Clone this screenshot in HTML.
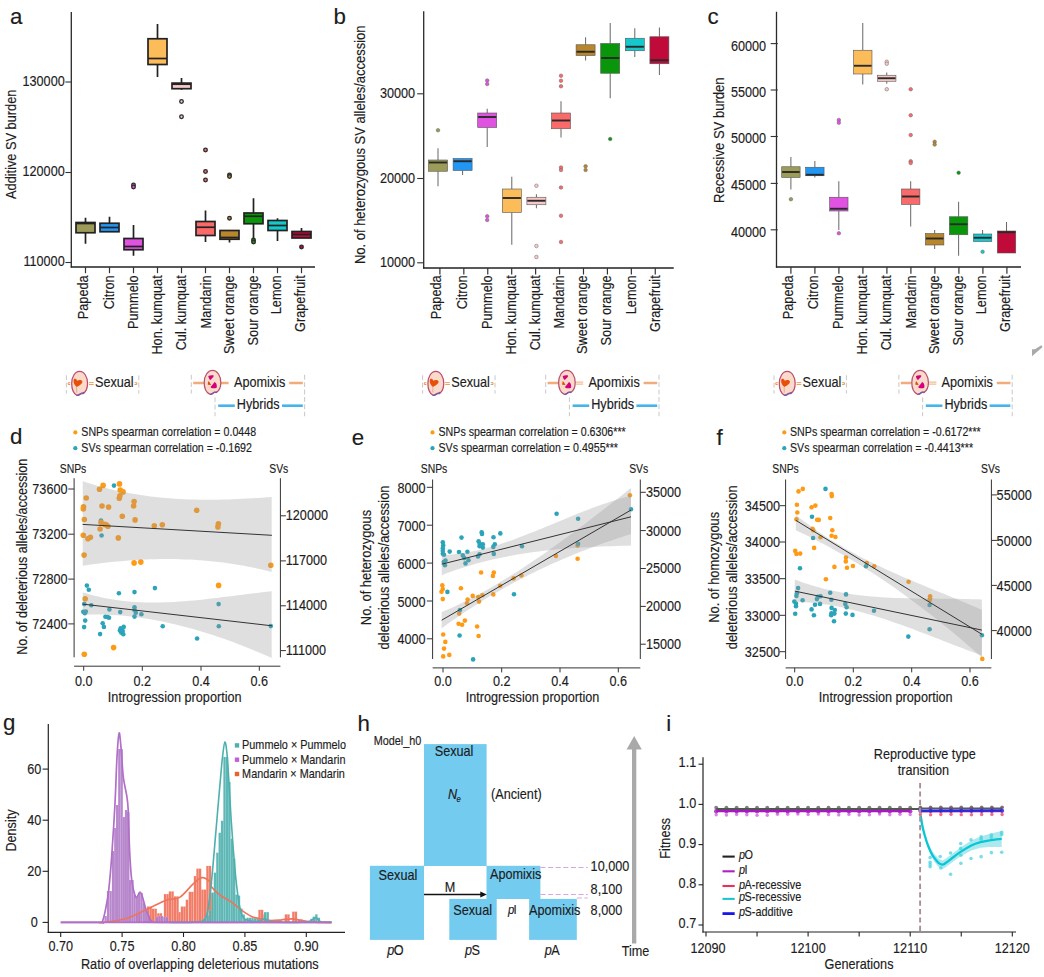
<!DOCTYPE html>
<html><head><meta charset="utf-8"><title>figure</title>
<style>html,body{margin:0;padding:0;background:#fff}svg{display:block}text{font-family:"Liberation Sans",sans-serif}</style>
</head><body>
<svg width="1044" height="977" viewBox="0 0 1044 977">
<rect width="1044" height="977" fill="#fff"/>
<line x1="71.30" y1="12.00" x2="71.30" y2="267.50" stroke="#2a2a2a" stroke-width="1.3"/>
<line x1="70.70" y1="267.00" x2="315.00" y2="267.00" stroke="#222" stroke-width="1.3"/>
<line x1="65.40" y1="82.00" x2="71.30" y2="82.00" stroke="#333" stroke-width="1.1"/>
<text transform="translate(64.70,85.60) scale(0.8450,1)" font-size="14.98" text-anchor="end" fill="#1c1c1c" stroke="#1c1c1c" stroke-width="0.16">130000</text>
<line x1="65.40" y1="172.50" x2="71.30" y2="172.50" stroke="#333" stroke-width="1.1"/>
<text transform="translate(64.70,176.10) scale(0.8450,1)" font-size="14.98" text-anchor="end" fill="#1c1c1c" stroke="#1c1c1c" stroke-width="0.16">120000</text>
<line x1="65.40" y1="262.50" x2="71.30" y2="262.50" stroke="#333" stroke-width="1.1"/>
<text transform="translate(64.70,266.10) scale(0.8450,1)" font-size="14.98" text-anchor="end" fill="#1c1c1c" stroke="#1c1c1c" stroke-width="0.16">110000</text>
<line x1="85.50" y1="267.00" x2="85.50" y2="273.20" stroke="#333" stroke-width="1.2"/>
<text transform="translate(87.70,275.30) rotate(-90) scale(0.8280,1)" font-size="15.4" text-anchor="end" fill="#1c1c1c" stroke="#1c1c1c" stroke-width="0.16">Papeda</text>
<line x1="85.50" y1="217.75" x2="85.50" y2="222.50" stroke="#222" stroke-width="1.7"/>
<line x1="85.50" y1="232.75" x2="85.50" y2="243.75" stroke="#222" stroke-width="1.7"/>
<rect x="76.00" y="222.50" width="19.00" height="10.25" fill="#9c9c58" stroke="#222" stroke-width="1.7"/>
<line x1="76.00" y1="223.50" x2="95.00" y2="223.50" stroke="#222" stroke-width="1.7"/>
<line x1="109.50" y1="267.00" x2="109.50" y2="273.20" stroke="#333" stroke-width="1.2"/>
<text transform="translate(113.90,275.30) rotate(-90) scale(0.8280,1)" font-size="15.4" text-anchor="end" fill="#1c1c1c" stroke="#1c1c1c" stroke-width="0.16">Citron</text>
<line x1="109.50" y1="216.75" x2="109.50" y2="223.25" stroke="#222" stroke-width="1.7"/>
<line x1="109.50" y1="231.75" x2="109.50" y2="231.75" stroke="#222" stroke-width="1.7"/>
<rect x="100.00" y="223.25" width="19.00" height="8.50" fill="#2196f3" stroke="#222" stroke-width="1.7"/>
<line x1="100.00" y1="227.50" x2="119.00" y2="227.50" stroke="#222" stroke-width="1.7"/>
<line x1="133.50" y1="267.00" x2="133.50" y2="273.20" stroke="#333" stroke-width="1.2"/>
<text transform="translate(138.20,275.30) rotate(-90) scale(0.8280,1)" font-size="15.4" text-anchor="end" fill="#1c1c1c" stroke="#1c1c1c" stroke-width="0.16">Pummelo</text>
<line x1="133.50" y1="225.00" x2="133.50" y2="238.50" stroke="#222" stroke-width="1.7"/>
<line x1="133.50" y1="249.75" x2="133.50" y2="255.75" stroke="#222" stroke-width="1.7"/>
<rect x="124.00" y="238.50" width="19.00" height="11.25" fill="#e052e0" stroke="#222" stroke-width="1.7"/>
<line x1="124.00" y1="246.50" x2="143.00" y2="246.50" stroke="#222" stroke-width="1.7"/>
<circle cx="133.50" cy="185.00" r="1.80" fill="#e052e0" stroke="#2a2a2a" stroke-width="1.3"/>
<circle cx="133.50" cy="187.00" r="1.80" fill="#e052e0" stroke="#2a2a2a" stroke-width="1.3"/>
<line x1="157.50" y1="267.00" x2="157.50" y2="273.20" stroke="#333" stroke-width="1.2"/>
<text transform="translate(162.40,275.30) rotate(-90) scale(0.8280,1)" font-size="15.4" text-anchor="end" fill="#1c1c1c" stroke="#1c1c1c" stroke-width="0.16">Hon. kumquat</text>
<line x1="157.50" y1="24.00" x2="157.50" y2="38.75" stroke="#222" stroke-width="1.7"/>
<line x1="157.50" y1="64.50" x2="157.50" y2="77.00" stroke="#222" stroke-width="1.7"/>
<rect x="148.00" y="38.75" width="19.00" height="25.75" fill="#fdbc5a" stroke="#222" stroke-width="1.7"/>
<line x1="148.00" y1="58.50" x2="167.00" y2="58.50" stroke="#222" stroke-width="1.7"/>
<line x1="181.50" y1="267.00" x2="181.50" y2="273.20" stroke="#333" stroke-width="1.2"/>
<text transform="translate(186.40,275.30) rotate(-90) scale(0.8280,1)" font-size="15.4" text-anchor="end" fill="#1c1c1c" stroke="#1c1c1c" stroke-width="0.16">Cul. kumquat</text>
<line x1="181.50" y1="78.00" x2="181.50" y2="83.10" stroke="#222" stroke-width="1.7"/>
<line x1="181.50" y1="88.70" x2="181.50" y2="89.80" stroke="#222" stroke-width="1.7"/>
<rect x="172.00" y="83.10" width="19.00" height="5.60" fill="#f8c8c8" stroke="#222" stroke-width="1.7"/>
<line x1="172.00" y1="84.20" x2="191.00" y2="84.20" stroke="#222" stroke-width="1.7"/>
<circle cx="181.50" cy="101.50" r="1.80" fill="#f8c8c8" stroke="#2a2a2a" stroke-width="1.3"/>
<circle cx="181.50" cy="116.75" r="1.80" fill="#f8c8c8" stroke="#2a2a2a" stroke-width="1.3"/>
<line x1="205.50" y1="267.00" x2="205.50" y2="273.20" stroke="#333" stroke-width="1.2"/>
<text transform="translate(210.50,275.30) rotate(-90) scale(0.8280,1)" font-size="15.4" text-anchor="end" fill="#1c1c1c" stroke="#1c1c1c" stroke-width="0.16">Mandarin</text>
<line x1="205.50" y1="210.50" x2="205.50" y2="221.50" stroke="#222" stroke-width="1.7"/>
<line x1="205.50" y1="235.50" x2="205.50" y2="242.00" stroke="#222" stroke-width="1.7"/>
<rect x="196.00" y="221.50" width="19.00" height="14.00" fill="#fb6a6a" stroke="#222" stroke-width="1.7"/>
<line x1="196.00" y1="227.25" x2="215.00" y2="227.25" stroke="#222" stroke-width="1.7"/>
<circle cx="205.50" cy="150.00" r="1.80" fill="#fb6a6a" stroke="#2a2a2a" stroke-width="1.3"/>
<circle cx="205.50" cy="171.50" r="1.80" fill="#fb6a6a" stroke="#2a2a2a" stroke-width="1.3"/>
<circle cx="205.50" cy="180.00" r="1.80" fill="#fb6a6a" stroke="#2a2a2a" stroke-width="1.3"/>
<line x1="229.50" y1="267.00" x2="229.50" y2="273.20" stroke="#333" stroke-width="1.2"/>
<text transform="translate(233.80,275.30) rotate(-90) scale(0.8280,1)" font-size="15.4" text-anchor="end" fill="#1c1c1c" stroke="#1c1c1c" stroke-width="0.16">Sweet orange</text>
<line x1="229.50" y1="230.50" x2="229.50" y2="230.50" stroke="#222" stroke-width="1.7"/>
<line x1="229.50" y1="239.25" x2="229.50" y2="242.50" stroke="#222" stroke-width="1.7"/>
<rect x="220.00" y="230.50" width="19.00" height="8.75" fill="#b8862b" stroke="#222" stroke-width="1.7"/>
<line x1="220.00" y1="237.50" x2="239.00" y2="237.50" stroke="#222" stroke-width="1.7"/>
<circle cx="229.50" cy="175.00" r="1.80" fill="#b8862b" stroke="#2a2a2a" stroke-width="1.3"/>
<circle cx="229.50" cy="176.50" r="1.80" fill="#b8862b" stroke="#2a2a2a" stroke-width="1.3"/>
<circle cx="229.50" cy="218.25" r="1.80" fill="#b8862b" stroke="#2a2a2a" stroke-width="1.3"/>
<line x1="253.50" y1="267.00" x2="253.50" y2="273.20" stroke="#333" stroke-width="1.2"/>
<text transform="translate(257.90,275.30) rotate(-90) scale(0.8280,1)" font-size="15.4" text-anchor="end" fill="#1c1c1c" stroke="#1c1c1c" stroke-width="0.16">Sour orange</text>
<line x1="253.50" y1="198.25" x2="253.50" y2="213.00" stroke="#222" stroke-width="1.7"/>
<line x1="253.50" y1="223.75" x2="253.50" y2="240.00" stroke="#222" stroke-width="1.7"/>
<rect x="244.00" y="213.00" width="19.00" height="10.75" fill="#0a960a" stroke="#222" stroke-width="1.7"/>
<line x1="244.00" y1="216.25" x2="263.00" y2="216.25" stroke="#222" stroke-width="1.7"/>
<circle cx="253.50" cy="240.00" r="1.80" fill="#0a960a" stroke="#2a2a2a" stroke-width="1.3"/>
<circle cx="253.50" cy="242.00" r="1.80" fill="#0a960a" stroke="#2a2a2a" stroke-width="1.3"/>
<line x1="277.50" y1="267.00" x2="277.50" y2="273.20" stroke="#333" stroke-width="1.2"/>
<text transform="translate(280.80,275.30) rotate(-90) scale(0.8280,1)" font-size="15.4" text-anchor="end" fill="#1c1c1c" stroke="#1c1c1c" stroke-width="0.16">Lemon</text>
<line x1="277.50" y1="218.25" x2="277.50" y2="220.50" stroke="#222" stroke-width="1.7"/>
<line x1="277.50" y1="230.50" x2="277.50" y2="241.00" stroke="#222" stroke-width="1.7"/>
<rect x="268.00" y="220.50" width="19.00" height="10.00" fill="#14c8cc" stroke="#222" stroke-width="1.7"/>
<line x1="268.00" y1="225.50" x2="287.00" y2="225.50" stroke="#222" stroke-width="1.7"/>
<line x1="301.50" y1="267.00" x2="301.50" y2="273.20" stroke="#333" stroke-width="1.2"/>
<text transform="translate(305.20,275.30) rotate(-90) scale(0.8280,1)" font-size="15.4" text-anchor="end" fill="#1c1c1c" stroke="#1c1c1c" stroke-width="0.16">Grapefruit</text>
<line x1="301.50" y1="228.00" x2="301.50" y2="231.50" stroke="#222" stroke-width="1.7"/>
<line x1="301.50" y1="238.00" x2="301.50" y2="238.00" stroke="#222" stroke-width="1.7"/>
<rect x="292.00" y="231.50" width="19.00" height="6.50" fill="#c00a3a" stroke="#222" stroke-width="1.7"/>
<line x1="292.00" y1="234.50" x2="311.00" y2="234.50" stroke="#222" stroke-width="1.7"/>
<circle cx="301.50" cy="247.00" r="1.80" fill="#c00a3a" stroke="#2a2a2a" stroke-width="1.3"/>
<text transform="translate(16.10,144.30) rotate(-90) scale(0.8450,1)" font-size="15.1405" text-anchor="middle" fill="#1c1c1c" stroke="#1c1c1c" stroke-width="0.16">Additive SV burden</text>
<text transform="translate(10.00,23.60) scale(1.0000,1)" font-size="22.3" text-anchor="start" fill="#1c1c1c" stroke="#1c1c1c" stroke-width="0.16">a</text>
<line x1="423.70" y1="11.25" x2="423.70" y2="268.50" stroke="#2a2a2a" stroke-width="1.3"/>
<line x1="423.10" y1="268.00" x2="673.75" y2="268.00" stroke="#222" stroke-width="1.3"/>
<line x1="417.20" y1="93.80" x2="423.70" y2="93.80" stroke="#333" stroke-width="1.1"/>
<text transform="translate(415.10,98.00) scale(0.8450,1)" font-size="14.98" text-anchor="end" fill="#1c1c1c" stroke="#1c1c1c" stroke-width="0.16">30000</text>
<line x1="417.20" y1="178.50" x2="423.70" y2="178.50" stroke="#333" stroke-width="1.1"/>
<text transform="translate(415.10,182.70) scale(0.8450,1)" font-size="14.98" text-anchor="end" fill="#1c1c1c" stroke="#1c1c1c" stroke-width="0.16">20000</text>
<line x1="417.20" y1="262.80" x2="423.70" y2="262.80" stroke="#333" stroke-width="1.1"/>
<text transform="translate(415.10,267.00) scale(0.8450,1)" font-size="14.98" text-anchor="end" fill="#1c1c1c" stroke="#1c1c1c" stroke-width="0.16">10000</text>
<line x1="439.90" y1="268.00" x2="439.90" y2="274.50" stroke="#333" stroke-width="1.2"/>
<text transform="translate(440.60,275.30) rotate(-90) scale(0.8280,1)" font-size="15.4" text-anchor="end" fill="#1c1c1c" stroke="#1c1c1c" stroke-width="0.16">Papeda</text>
<line x1="438.00" y1="148.25" x2="438.00" y2="160.00" stroke="#666" stroke-width="1"/>
<line x1="438.00" y1="171.25" x2="438.00" y2="186.25" stroke="#666" stroke-width="1"/>
<rect x="428.50" y="160.00" width="19.00" height="11.25" fill="#9c9c58" stroke="#555" stroke-width="0.6"/>
<line x1="428.90" y1="162.50" x2="447.10" y2="162.50" stroke="#2a2a2a" stroke-width="1.9"/>
<circle cx="438.00" cy="130.25" r="1.80" fill="#9c9c58" stroke="#666" stroke-width="0.5"/>
<line x1="463.83" y1="268.00" x2="463.83" y2="274.50" stroke="#333" stroke-width="1.2"/>
<text transform="translate(467.03,275.30) rotate(-90) scale(0.8280,1)" font-size="15.4" text-anchor="end" fill="#1c1c1c" stroke="#1c1c1c" stroke-width="0.16">Citron</text>
<line x1="462.60" y1="158.00" x2="462.60" y2="158.50" stroke="#666" stroke-width="1"/>
<line x1="462.60" y1="170.50" x2="462.60" y2="175.00" stroke="#666" stroke-width="1"/>
<rect x="453.10" y="158.50" width="19.00" height="12.00" fill="#2196f3" stroke="#555" stroke-width="0.6"/>
<line x1="453.50" y1="161.25" x2="471.70" y2="161.25" stroke="#2a2a2a" stroke-width="1.9"/>
<line x1="487.76" y1="268.00" x2="487.76" y2="274.50" stroke="#333" stroke-width="1.2"/>
<text transform="translate(492.16,275.30) rotate(-90) scale(0.8280,1)" font-size="15.4" text-anchor="end" fill="#1c1c1c" stroke="#1c1c1c" stroke-width="0.16">Pummelo</text>
<line x1="487.20" y1="108.75" x2="487.20" y2="113.00" stroke="#666" stroke-width="1"/>
<line x1="487.20" y1="127.50" x2="487.20" y2="147.00" stroke="#666" stroke-width="1"/>
<rect x="477.70" y="113.00" width="19.00" height="14.50" fill="#e052e0" stroke="#555" stroke-width="0.6"/>
<line x1="478.10" y1="117.00" x2="496.30" y2="117.00" stroke="#2a2a2a" stroke-width="1.9"/>
<circle cx="487.20" cy="80.50" r="1.80" fill="#e052e0" stroke="#666" stroke-width="0.5"/>
<circle cx="487.20" cy="84.00" r="1.80" fill="#e052e0" stroke="#666" stroke-width="0.5"/>
<circle cx="487.20" cy="216.25" r="1.80" fill="#e052e0" stroke="#666" stroke-width="0.5"/>
<circle cx="487.20" cy="220.00" r="1.80" fill="#e052e0" stroke="#666" stroke-width="0.5"/>
<line x1="511.69" y1="268.00" x2="511.69" y2="274.50" stroke="#333" stroke-width="1.2"/>
<text transform="translate(516.39,275.30) rotate(-90) scale(0.8280,1)" font-size="15.4" text-anchor="end" fill="#1c1c1c" stroke="#1c1c1c" stroke-width="0.16">Hon. kumquat</text>
<line x1="511.80" y1="176.75" x2="511.80" y2="189.00" stroke="#666" stroke-width="1"/>
<line x1="511.80" y1="212.50" x2="511.80" y2="244.75" stroke="#666" stroke-width="1"/>
<rect x="502.30" y="189.00" width="19.00" height="23.50" fill="#fdbc5a" stroke="#555" stroke-width="0.6"/>
<line x1="502.70" y1="198.00" x2="520.90" y2="198.00" stroke="#2a2a2a" stroke-width="1.9"/>
<line x1="535.62" y1="268.00" x2="535.62" y2="274.50" stroke="#333" stroke-width="1.2"/>
<text transform="translate(540.02,275.30) rotate(-90) scale(0.8280,1)" font-size="15.4" text-anchor="end" fill="#1c1c1c" stroke="#1c1c1c" stroke-width="0.16">Cul. kumquat</text>
<line x1="536.40" y1="194.25" x2="536.40" y2="197.25" stroke="#666" stroke-width="1"/>
<line x1="536.40" y1="204.75" x2="536.40" y2="208.25" stroke="#666" stroke-width="1"/>
<rect x="526.90" y="197.25" width="19.00" height="7.50" fill="#f8c8c8" stroke="#555" stroke-width="0.6"/>
<line x1="527.30" y1="200.75" x2="545.50" y2="200.75" stroke="#2a2a2a" stroke-width="1.9"/>
<circle cx="536.40" cy="185.75" r="1.80" fill="#f8c8c8" stroke="#666" stroke-width="0.5"/>
<circle cx="536.40" cy="246.00" r="1.80" fill="#f8c8c8" stroke="#666" stroke-width="0.5"/>
<circle cx="536.40" cy="257.00" r="1.80" fill="#f8c8c8" stroke="#666" stroke-width="0.5"/>
<line x1="559.55" y1="268.00" x2="559.55" y2="274.50" stroke="#333" stroke-width="1.2"/>
<text transform="translate(563.55,275.30) rotate(-90) scale(0.8280,1)" font-size="15.4" text-anchor="end" fill="#1c1c1c" stroke="#1c1c1c" stroke-width="0.16">Mandarin</text>
<line x1="561.00" y1="101.25" x2="561.00" y2="113.00" stroke="#666" stroke-width="1"/>
<line x1="561.00" y1="128.75" x2="561.00" y2="137.50" stroke="#666" stroke-width="1"/>
<rect x="551.50" y="113.00" width="19.00" height="15.75" fill="#fb6a6a" stroke="#555" stroke-width="0.6"/>
<line x1="551.90" y1="120.50" x2="570.10" y2="120.50" stroke="#2a2a2a" stroke-width="1.9"/>
<circle cx="561.00" cy="75.75" r="1.80" fill="#fb6a6a" stroke="#666" stroke-width="0.5"/>
<circle cx="561.00" cy="80.75" r="1.80" fill="#fb6a6a" stroke="#666" stroke-width="0.5"/>
<circle cx="561.00" cy="86.25" r="1.80" fill="#fb6a6a" stroke="#666" stroke-width="0.5"/>
<circle cx="561.00" cy="167.50" r="1.80" fill="#fb6a6a" stroke="#666" stroke-width="0.5"/>
<circle cx="561.00" cy="170.00" r="1.80" fill="#fb6a6a" stroke="#666" stroke-width="0.5"/>
<circle cx="561.00" cy="187.50" r="1.80" fill="#fb6a6a" stroke="#666" stroke-width="0.5"/>
<circle cx="561.00" cy="215.75" r="1.80" fill="#fb6a6a" stroke="#666" stroke-width="0.5"/>
<circle cx="561.00" cy="242.00" r="1.80" fill="#fb6a6a" stroke="#666" stroke-width="0.5"/>
<line x1="583.48" y1="268.00" x2="583.48" y2="274.50" stroke="#333" stroke-width="1.2"/>
<text transform="translate(587.08,275.30) rotate(-90) scale(0.8280,1)" font-size="15.4" text-anchor="end" fill="#1c1c1c" stroke="#1c1c1c" stroke-width="0.16">Sweet orange</text>
<line x1="585.60" y1="37.25" x2="585.60" y2="44.75" stroke="#666" stroke-width="1"/>
<line x1="585.60" y1="55.50" x2="585.60" y2="60.50" stroke="#666" stroke-width="1"/>
<rect x="576.10" y="44.75" width="19.00" height="10.75" fill="#b8862b" stroke="#555" stroke-width="0.6"/>
<line x1="576.50" y1="51.75" x2="594.70" y2="51.75" stroke="#2a2a2a" stroke-width="1.9"/>
<circle cx="585.60" cy="166.25" r="1.80" fill="#b8862b" stroke="#666" stroke-width="0.5"/>
<circle cx="585.60" cy="170.00" r="1.80" fill="#b8862b" stroke="#666" stroke-width="0.5"/>
<line x1="607.41" y1="268.00" x2="607.41" y2="274.50" stroke="#333" stroke-width="1.2"/>
<text transform="translate(611.11,275.30) rotate(-90) scale(0.8280,1)" font-size="15.4" text-anchor="end" fill="#1c1c1c" stroke="#1c1c1c" stroke-width="0.16">Sour orange</text>
<line x1="610.20" y1="23.00" x2="610.20" y2="43.50" stroke="#666" stroke-width="1"/>
<line x1="610.20" y1="73.25" x2="610.20" y2="98.25" stroke="#666" stroke-width="1"/>
<rect x="600.70" y="43.50" width="19.00" height="29.75" fill="#0a960a" stroke="#555" stroke-width="0.6"/>
<line x1="601.10" y1="58.00" x2="619.30" y2="58.00" stroke="#2a2a2a" stroke-width="1.9"/>
<circle cx="610.20" cy="139.00" r="1.80" fill="#0a960a" stroke="#666" stroke-width="0.5"/>
<line x1="631.34" y1="268.00" x2="631.34" y2="274.50" stroke="#333" stroke-width="1.2"/>
<text transform="translate(635.74,275.30) rotate(-90) scale(0.8280,1)" font-size="15.4" text-anchor="end" fill="#1c1c1c" stroke="#1c1c1c" stroke-width="0.16">Lemon</text>
<line x1="634.80" y1="28.25" x2="634.80" y2="38.25" stroke="#666" stroke-width="1"/>
<line x1="634.80" y1="50.75" x2="634.80" y2="57.00" stroke="#666" stroke-width="1"/>
<rect x="625.30" y="38.25" width="19.00" height="12.50" fill="#14c8cc" stroke="#555" stroke-width="0.6"/>
<line x1="625.70" y1="46.75" x2="643.90" y2="46.75" stroke="#2a2a2a" stroke-width="1.9"/>
<line x1="655.27" y1="268.00" x2="655.27" y2="274.50" stroke="#333" stroke-width="1.2"/>
<text transform="translate(659.87,275.30) rotate(-90) scale(0.8280,1)" font-size="15.4" text-anchor="end" fill="#1c1c1c" stroke="#1c1c1c" stroke-width="0.16">Grapefruit</text>
<line x1="659.40" y1="27.50" x2="659.40" y2="36.75" stroke="#666" stroke-width="1"/>
<line x1="659.40" y1="63.75" x2="659.40" y2="75.00" stroke="#666" stroke-width="1"/>
<rect x="649.90" y="36.75" width="19.00" height="27.00" fill="#c00a3a" stroke="#555" stroke-width="0.6"/>
<line x1="650.30" y1="60.25" x2="668.50" y2="60.25" stroke="#2a2a2a" stroke-width="1.9"/>
<text transform="translate(365.30,144.80) rotate(-90) scale(0.8450,1)" font-size="15.3545" text-anchor="middle" fill="#1c1c1c" stroke="#1c1c1c" stroke-width="0.16">No. of heterozygous SV alleles/accession</text>
<text transform="translate(333.40,23.60) scale(1.0000,1)" font-size="22.3" text-anchor="start" fill="#1c1c1c" stroke="#1c1c1c" stroke-width="0.16">b</text>
<line x1="776.50" y1="11.75" x2="776.50" y2="267.50" stroke="#2a2a2a" stroke-width="1.3"/>
<line x1="775.90" y1="267.00" x2="1021.00" y2="267.00" stroke="#222" stroke-width="1.3"/>
<line x1="770.70" y1="43.60" x2="777.80" y2="43.60" stroke="#333" stroke-width="1.1"/>
<text transform="translate(766.10,50.50) scale(0.8450,1)" font-size="14.98" text-anchor="end" fill="#1c1c1c" stroke="#1c1c1c" stroke-width="0.16">60000</text>
<line x1="770.70" y1="90.00" x2="777.80" y2="90.00" stroke="#333" stroke-width="1.1"/>
<text transform="translate(766.10,96.90) scale(0.8450,1)" font-size="14.98" text-anchor="end" fill="#1c1c1c" stroke="#1c1c1c" stroke-width="0.16">55000</text>
<line x1="770.70" y1="136.50" x2="777.80" y2="136.50" stroke="#333" stroke-width="1.1"/>
<text transform="translate(766.10,143.40) scale(0.8450,1)" font-size="14.98" text-anchor="end" fill="#1c1c1c" stroke="#1c1c1c" stroke-width="0.16">50000</text>
<line x1="770.70" y1="183.40" x2="777.80" y2="183.40" stroke="#333" stroke-width="1.1"/>
<text transform="translate(766.10,190.30) scale(0.8450,1)" font-size="14.98" text-anchor="end" fill="#1c1c1c" stroke="#1c1c1c" stroke-width="0.16">45000</text>
<line x1="770.70" y1="229.80" x2="777.80" y2="229.80" stroke="#333" stroke-width="1.1"/>
<text transform="translate(766.10,236.70) scale(0.8450,1)" font-size="14.98" text-anchor="end" fill="#1c1c1c" stroke="#1c1c1c" stroke-width="0.16">40000</text>
<line x1="790.90" y1="267.00" x2="790.90" y2="273.80" stroke="#333" stroke-width="1.2"/>
<text transform="translate(793.40,275.30) rotate(-90) scale(0.8280,1)" font-size="15.4" text-anchor="end" fill="#1c1c1c" stroke="#1c1c1c" stroke-width="0.16">Papeda</text>
<line x1="790.90" y1="157.00" x2="790.90" y2="166.75" stroke="#666" stroke-width="1"/>
<line x1="790.90" y1="177.50" x2="790.90" y2="189.50" stroke="#666" stroke-width="1"/>
<rect x="781.70" y="166.75" width="18.40" height="10.75" fill="#9c9c58" stroke="#555" stroke-width="0.6"/>
<line x1="782.10" y1="172.00" x2="799.70" y2="172.00" stroke="#2a2a2a" stroke-width="1.9"/>
<circle cx="790.90" cy="199.25" r="1.80" fill="#9c9c58" stroke="#666" stroke-width="0.5"/>
<line x1="814.90" y1="267.00" x2="814.90" y2="273.80" stroke="#333" stroke-width="1.2"/>
<text transform="translate(818.40,275.30) rotate(-90) scale(0.8280,1)" font-size="15.4" text-anchor="end" fill="#1c1c1c" stroke="#1c1c1c" stroke-width="0.16">Citron</text>
<line x1="814.86" y1="161.00" x2="814.86" y2="167.25" stroke="#666" stroke-width="1"/>
<line x1="814.86" y1="175.75" x2="814.86" y2="177.50" stroke="#666" stroke-width="1"/>
<rect x="805.66" y="167.25" width="18.40" height="8.50" fill="#2196f3" stroke="#555" stroke-width="0.6"/>
<line x1="806.06" y1="174.75" x2="823.66" y2="174.75" stroke="#2a2a2a" stroke-width="1.9"/>
<line x1="838.90" y1="267.00" x2="838.90" y2="273.80" stroke="#333" stroke-width="1.2"/>
<text transform="translate(842.70,275.30) rotate(-90) scale(0.8280,1)" font-size="15.4" text-anchor="end" fill="#1c1c1c" stroke="#1c1c1c" stroke-width="0.16">Pummelo</text>
<line x1="838.82" y1="181.25" x2="838.82" y2="197.25" stroke="#666" stroke-width="1"/>
<line x1="838.82" y1="211.00" x2="838.82" y2="230.00" stroke="#666" stroke-width="1"/>
<rect x="829.62" y="197.25" width="18.40" height="13.75" fill="#e052e0" stroke="#555" stroke-width="0.6"/>
<line x1="830.02" y1="208.75" x2="847.62" y2="208.75" stroke="#2a2a2a" stroke-width="1.9"/>
<circle cx="838.82" cy="120.00" r="1.80" fill="#e052e0" stroke="#666" stroke-width="0.5"/>
<circle cx="838.82" cy="122.75" r="1.80" fill="#e052e0" stroke="#666" stroke-width="0.5"/>
<circle cx="838.82" cy="233.25" r="1.80" fill="#e052e0" stroke="#666" stroke-width="0.5"/>
<line x1="862.90" y1="267.00" x2="862.90" y2="273.80" stroke="#333" stroke-width="1.2"/>
<text transform="translate(867.20,275.30) rotate(-90) scale(0.8280,1)" font-size="15.4" text-anchor="end" fill="#1c1c1c" stroke="#1c1c1c" stroke-width="0.16">Hon. kumquat</text>
<line x1="862.78" y1="23.00" x2="862.78" y2="50.25" stroke="#666" stroke-width="1"/>
<line x1="862.78" y1="74.00" x2="862.78" y2="84.50" stroke="#666" stroke-width="1"/>
<rect x="853.58" y="50.25" width="18.40" height="23.75" fill="#fdbc5a" stroke="#555" stroke-width="0.6"/>
<line x1="853.98" y1="65.75" x2="871.58" y2="65.75" stroke="#2a2a2a" stroke-width="1.9"/>
<line x1="886.90" y1="267.00" x2="886.90" y2="273.80" stroke="#333" stroke-width="1.2"/>
<text transform="translate(891.40,275.30) rotate(-90) scale(0.8280,1)" font-size="15.4" text-anchor="end" fill="#1c1c1c" stroke="#1c1c1c" stroke-width="0.16">Cul. kumquat</text>
<line x1="886.74" y1="72.50" x2="886.74" y2="75.25" stroke="#666" stroke-width="1"/>
<line x1="886.74" y1="81.25" x2="886.74" y2="83.75" stroke="#666" stroke-width="1"/>
<rect x="877.54" y="75.25" width="18.40" height="6.00" fill="#f8c8c8" stroke="#555" stroke-width="0.6"/>
<line x1="877.94" y1="78.25" x2="895.54" y2="78.25" stroke="#2a2a2a" stroke-width="1.9"/>
<circle cx="886.74" cy="61.75" r="1.80" fill="#f8c8c8" stroke="#666" stroke-width="0.5"/>
<circle cx="886.74" cy="63.75" r="1.80" fill="#f8c8c8" stroke="#666" stroke-width="0.5"/>
<circle cx="886.74" cy="89.25" r="1.80" fill="#f8c8c8" stroke="#666" stroke-width="0.5"/>
<line x1="910.90" y1="267.00" x2="910.90" y2="273.80" stroke="#333" stroke-width="1.2"/>
<text transform="translate(915.50,275.30) rotate(-90) scale(0.8280,1)" font-size="15.4" text-anchor="end" fill="#1c1c1c" stroke="#1c1c1c" stroke-width="0.16">Mandarin</text>
<line x1="910.70" y1="181.25" x2="910.70" y2="189.00" stroke="#666" stroke-width="1"/>
<line x1="910.70" y1="204.50" x2="910.70" y2="226.50" stroke="#666" stroke-width="1"/>
<rect x="901.50" y="189.00" width="18.40" height="15.50" fill="#fb6a6a" stroke="#555" stroke-width="0.6"/>
<line x1="901.90" y1="196.50" x2="919.50" y2="196.50" stroke="#2a2a2a" stroke-width="1.9"/>
<circle cx="910.70" cy="89.25" r="1.80" fill="#fb6a6a" stroke="#666" stroke-width="0.5"/>
<circle cx="910.70" cy="115.25" r="1.80" fill="#fb6a6a" stroke="#666" stroke-width="0.5"/>
<circle cx="910.70" cy="135.00" r="1.80" fill="#fb6a6a" stroke="#666" stroke-width="0.5"/>
<circle cx="910.70" cy="161.25" r="1.80" fill="#fb6a6a" stroke="#666" stroke-width="0.5"/>
<circle cx="910.70" cy="163.00" r="1.80" fill="#fb6a6a" stroke="#666" stroke-width="0.5"/>
<line x1="934.90" y1="267.00" x2="934.90" y2="273.80" stroke="#333" stroke-width="1.2"/>
<text transform="translate(938.60,275.30) rotate(-90) scale(0.8280,1)" font-size="15.4" text-anchor="end" fill="#1c1c1c" stroke="#1c1c1c" stroke-width="0.16">Sweet orange</text>
<line x1="934.66" y1="230.00" x2="934.66" y2="233.50" stroke="#666" stroke-width="1"/>
<line x1="934.66" y1="245.00" x2="934.66" y2="249.00" stroke="#666" stroke-width="1"/>
<rect x="925.46" y="233.50" width="18.40" height="11.50" fill="#b8862b" stroke="#555" stroke-width="0.6"/>
<line x1="925.86" y1="238.50" x2="943.46" y2="238.50" stroke="#2a2a2a" stroke-width="1.9"/>
<circle cx="934.66" cy="141.75" r="1.80" fill="#b8862b" stroke="#666" stroke-width="0.5"/>
<circle cx="934.66" cy="144.50" r="1.80" fill="#b8862b" stroke="#666" stroke-width="0.5"/>
<line x1="958.90" y1="267.00" x2="958.90" y2="273.80" stroke="#333" stroke-width="1.2"/>
<text transform="translate(962.90,275.30) rotate(-90) scale(0.8280,1)" font-size="15.4" text-anchor="end" fill="#1c1c1c" stroke="#1c1c1c" stroke-width="0.16">Sour orange</text>
<line x1="958.62" y1="201.75" x2="958.62" y2="216.75" stroke="#666" stroke-width="1"/>
<line x1="958.62" y1="234.75" x2="958.62" y2="255.75" stroke="#666" stroke-width="1"/>
<rect x="949.42" y="216.75" width="18.40" height="18.00" fill="#0a960a" stroke="#555" stroke-width="0.6"/>
<line x1="949.82" y1="224.25" x2="967.42" y2="224.25" stroke="#2a2a2a" stroke-width="1.9"/>
<circle cx="958.62" cy="172.75" r="1.80" fill="#0a960a" stroke="#666" stroke-width="0.5"/>
<line x1="982.90" y1="267.00" x2="982.90" y2="273.80" stroke="#333" stroke-width="1.2"/>
<text transform="translate(986.00,275.30) rotate(-90) scale(0.8280,1)" font-size="15.4" text-anchor="end" fill="#1c1c1c" stroke="#1c1c1c" stroke-width="0.16">Lemon</text>
<line x1="982.58" y1="230.00" x2="982.58" y2="234.00" stroke="#666" stroke-width="1"/>
<line x1="982.58" y1="241.50" x2="982.58" y2="241.50" stroke="#666" stroke-width="1"/>
<rect x="973.38" y="234.00" width="18.40" height="7.50" fill="#14c8cc" stroke="#555" stroke-width="0.6"/>
<line x1="973.78" y1="237.75" x2="991.38" y2="237.75" stroke="#2a2a2a" stroke-width="1.9"/>
<circle cx="982.58" cy="251.75" r="1.80" fill="#14c8cc" stroke="#666" stroke-width="0.5"/>
<line x1="1006.90" y1="267.00" x2="1006.90" y2="273.80" stroke="#333" stroke-width="1.2"/>
<text transform="translate(1010.40,275.30) rotate(-90) scale(0.8280,1)" font-size="15.4" text-anchor="end" fill="#1c1c1c" stroke="#1c1c1c" stroke-width="0.16">Grapefruit</text>
<line x1="1006.54" y1="222.00" x2="1006.54" y2="231.00" stroke="#666" stroke-width="1"/>
<line x1="1006.54" y1="253.00" x2="1006.54" y2="253.00" stroke="#666" stroke-width="1"/>
<rect x="997.34" y="231.00" width="18.40" height="22.00" fill="#c00a3a" stroke="#555" stroke-width="0.6"/>
<line x1="997.74" y1="232.25" x2="1015.34" y2="232.25" stroke="#2a2a2a" stroke-width="1.9"/>
<text transform="translate(724.00,140.20) rotate(-90) scale(0.8450,1)" font-size="15.4615" text-anchor="middle" fill="#1c1c1c" stroke="#1c1c1c" stroke-width="0.16">Recessive SV burden</text>
<text transform="translate(707.40,23.60) scale(1.0000,1)" font-size="22.3" text-anchor="start" fill="#1c1c1c" stroke="#1c1c1c" stroke-width="0.16">c</text>
<polygon points="1032,349.3 1035,349.3 1041.3,345.3 1042.6,347 1032,356.2" fill="#a9a9a9"/>
<line x1="66.40" y1="375.30" x2="66.40" y2="393.60" stroke="#c2c2c2" stroke-width="0.9" stroke-dasharray="4.8 2.6"/>
<line x1="138.80" y1="375.30" x2="138.80" y2="393.60" stroke="#c2c2c2" stroke-width="0.9" stroke-dasharray="4.8 2.6"/>
<path d="M70.20 382.7h-2v1.8h2" fill="none" stroke="#f09848" stroke-width="1.0"/>
<g transform="translate(-0.10,0.00)">
<path d="M79.7 371.4 C84.4 371.4 87.65 377 87.65 383.3 C87.65 388 86 391.6 83.6 393.4 C82.6 394.2 81.6 393.2 80.6 394 C79.4 395 78 395.8 76.6 395 C73.6 393.4 71.8 389 71.8 383.3 C71.8 377 75 371.4 79.7 371.4Z" fill="#f9dacb" stroke="#c04a6c" stroke-width="1.25"/>
<path d="M77 395.2 C78.6 395.6 79.6 394.2 80.8 393.6 C81.8 393 82.8 393.8 83.8 392.6" fill="none" stroke="#7a58ac" stroke-width="1.5" stroke-linecap="round"/>
<path d="M76.65 386.9 L76.8 392.6" stroke="#e0a890" stroke-width="0.9"/>
<path d="M76.9 386.9 C74.4 385.2 73.3 382.2 73.7 380.2 C74.1 378.2 76.2 378.3 77.3 380.8 C78.6 379.6 81.6 379.5 82.4 381.3 C83 383.2 80 385.7 76.9 386.9Z" fill="#e8500a"/>
</g>
<line x1="89.00" y1="382.60" x2="93.70" y2="382.60" stroke="#f0a060" stroke-width="1"/>
<line x1="89.00" y1="384.50" x2="93.70" y2="384.50" stroke="#f0a060" stroke-width="1"/>
<text transform="translate(95.00,386.60) scale(0.8450,1)" font-size="14.98" text-anchor="start" fill="#1c1c1c" stroke="#1c1c1c" stroke-width="0.16">Sexual</text>
<path d="M134.60 382.7h2.2v1.8h-2.2" fill="none" stroke="#f09848" stroke-width="1.0"/>
<line x1="191.30" y1="374.80" x2="191.30" y2="393.50" stroke="#c2c2c2" stroke-width="0.9" stroke-dasharray="4.8 2.6"/>
<line x1="304.60" y1="374.80" x2="304.60" y2="416.20" stroke="#c2c2c2" stroke-width="0.9" stroke-dasharray="4.8 2.6"/>
<line x1="215.00" y1="397.30" x2="215.00" y2="416.20" stroke="#c2c2c2" stroke-width="0.9" stroke-dasharray="4.8 2.6"/>
<line x1="193.20" y1="383.00" x2="204.00" y2="383.00" stroke="#f2ab7a" stroke-width="2.5"/>
<line x1="221.00" y1="383.00" x2="228.60" y2="383.00" stroke="#f2ab7a" stroke-width="2.5"/>
<g transform="translate(0.10,0.10)">
<path d="M212.4 370.2 C217.3 370.2 220.7 376 220.7 382.3 C220.7 387 219 390.4 216.6 392.2 C215.6 393 214.8 391.6 213.8 392.4 C212.8 393.4 211.4 394.8 209.6 394 C206.4 392.4 204.1 388 204.1 382.3 C204.1 376 207.5 370.2 212.4 370.2Z" fill="#f9dacb" stroke="#b8506e" stroke-width="1.25"/>
<path d="M210.6 394.2 C212.2 394 213 392.8 214 392.2 C214.9 391.7 215.6 392.6 216.4 391.8" fill="none" stroke="#7a58ac" stroke-width="1.4" stroke-linecap="round"/>
<path d="M208.2 376 C209.8 375.2 212 375 213.6 375.4 C213.7 376.4 213.2 377.2 212.2 377.9 C211.4 378.6 211 379.4 210.4 380 C209.2 379.4 208.4 377.8 208.2 376Z" fill="#d6007c"/>
<path d="M210.6 386.6 C211.8 385.6 213.4 383.6 214.4 382 C215.6 382.4 216.4 383.6 216.6 385 C216.8 386.2 216.8 387 216.5 387.6 C215.4 388.3 213 388.4 211.4 388 C210.8 387.7 210.5 387.2 210.6 386.6Z" fill="#d6007c"/>
<path d="M208.3 381 C209.2 381.6 209.8 382.6 210.2 383.4 L211.1 384.9 L207.7 384.6 C207.7 383.4 207.9 382 208.3 381Z" fill="#d85008"/>
</g>
<text transform="translate(234.00,386.70) scale(0.8450,1)" font-size="14.98" text-anchor="start" fill="#1c1c1c" stroke="#1c1c1c" stroke-width="0.16">Apomixis</text>
<line x1="289.20" y1="383.00" x2="302.80" y2="383.00" stroke="#f2ab7a" stroke-width="2.5"/>
<line x1="218.20" y1="405.70" x2="234.80" y2="405.70" stroke="#45b4ea" stroke-width="2.6"/>
<text transform="translate(236.80,409.40) scale(0.8450,1)" font-size="14.98" text-anchor="start" fill="#1c1c1c" stroke="#1c1c1c" stroke-width="0.16">Hybrids</text>
<line x1="282.00" y1="405.70" x2="302.80" y2="405.70" stroke="#45b4ea" stroke-width="2.6"/>
<line x1="422.60" y1="375.30" x2="422.60" y2="393.60" stroke="#c2c2c2" stroke-width="0.9" stroke-dasharray="4.8 2.6"/>
<line x1="495.00" y1="375.30" x2="495.00" y2="393.60" stroke="#c2c2c2" stroke-width="0.9" stroke-dasharray="4.8 2.6"/>
<path d="M426.40 382.7h-2v1.8h2" fill="none" stroke="#f09848" stroke-width="1.0"/>
<g transform="translate(356.10,0.00)">
<path d="M79.7 371.4 C84.4 371.4 87.65 377 87.65 383.3 C87.65 388 86 391.6 83.6 393.4 C82.6 394.2 81.6 393.2 80.6 394 C79.4 395 78 395.8 76.6 395 C73.6 393.4 71.8 389 71.8 383.3 C71.8 377 75 371.4 79.7 371.4Z" fill="#f9dacb" stroke="#c04a6c" stroke-width="1.25"/>
<path d="M77 395.2 C78.6 395.6 79.6 394.2 80.8 393.6 C81.8 393 82.8 393.8 83.8 392.6" fill="none" stroke="#7a58ac" stroke-width="1.5" stroke-linecap="round"/>
<path d="M76.65 386.9 L76.8 392.6" stroke="#e0a890" stroke-width="0.9"/>
<path d="M76.9 386.9 C74.4 385.2 73.3 382.2 73.7 380.2 C74.1 378.2 76.2 378.3 77.3 380.8 C78.6 379.6 81.6 379.5 82.4 381.3 C83 383.2 80 385.7 76.9 386.9Z" fill="#e8500a"/>
</g>
<line x1="445.20" y1="382.60" x2="449.90" y2="382.60" stroke="#f0a060" stroke-width="1"/>
<line x1="445.20" y1="384.50" x2="449.90" y2="384.50" stroke="#f0a060" stroke-width="1"/>
<text transform="translate(451.20,386.60) scale(0.8450,1)" font-size="14.98" text-anchor="start" fill="#1c1c1c" stroke="#1c1c1c" stroke-width="0.16">Sexual</text>
<path d="M490.80 382.7h2.2v1.8h-2.2" fill="none" stroke="#f09848" stroke-width="1.0"/>
<line x1="545.70" y1="374.80" x2="545.70" y2="393.50" stroke="#c2c2c2" stroke-width="0.9" stroke-dasharray="4.8 2.6"/>
<line x1="659.00" y1="374.80" x2="659.00" y2="416.20" stroke="#c2c2c2" stroke-width="0.9" stroke-dasharray="4.8 2.6"/>
<line x1="569.40" y1="397.30" x2="569.40" y2="416.20" stroke="#c2c2c2" stroke-width="0.9" stroke-dasharray="4.8 2.6"/>
<line x1="547.60" y1="383.00" x2="558.40" y2="383.00" stroke="#f2ab7a" stroke-width="2.5"/>
<line x1="575.90" y1="382.10" x2="583.20" y2="382.10" stroke="#f2ab7a" stroke-width="1"/>
<line x1="575.90" y1="384.10" x2="583.20" y2="384.10" stroke="#f2ab7a" stroke-width="1"/>
<g transform="translate(354.50,0.10)">
<path d="M212.4 370.2 C217.3 370.2 220.7 376 220.7 382.3 C220.7 387 219 390.4 216.6 392.2 C215.6 393 214.8 391.6 213.8 392.4 C212.8 393.4 211.4 394.8 209.6 394 C206.4 392.4 204.1 388 204.1 382.3 C204.1 376 207.5 370.2 212.4 370.2Z" fill="#f9dacb" stroke="#b8506e" stroke-width="1.25"/>
<path d="M210.6 394.2 C212.2 394 213 392.8 214 392.2 C214.9 391.7 215.6 392.6 216.4 391.8" fill="none" stroke="#7a58ac" stroke-width="1.4" stroke-linecap="round"/>
<path d="M208.2 376 C209.8 375.2 212 375 213.6 375.4 C213.7 376.4 213.2 377.2 212.2 377.9 C211.4 378.6 211 379.4 210.4 380 C209.2 379.4 208.4 377.8 208.2 376Z" fill="#d6007c"/>
<path d="M210.6 386.6 C211.8 385.6 213.4 383.6 214.4 382 C215.6 382.4 216.4 383.6 216.6 385 C216.8 386.2 216.8 387 216.5 387.6 C215.4 388.3 213 388.4 211.4 388 C210.8 387.7 210.5 387.2 210.6 386.6Z" fill="#d6007c"/>
<path d="M208.3 381 C209.2 381.6 209.8 382.6 210.2 383.4 L211.1 384.9 L207.7 384.6 C207.7 383.4 207.9 382 208.3 381Z" fill="#d85008"/>
</g>
<text transform="translate(588.40,386.70) scale(0.8450,1)" font-size="14.98" text-anchor="start" fill="#1c1c1c" stroke="#1c1c1c" stroke-width="0.16">Apomixis</text>
<line x1="643.60" y1="383.00" x2="657.20" y2="383.00" stroke="#f2ab7a" stroke-width="2.5"/>
<line x1="572.60" y1="405.70" x2="589.20" y2="405.70" stroke="#45b4ea" stroke-width="2.6"/>
<text transform="translate(591.20,409.40) scale(0.8450,1)" font-size="14.98" text-anchor="start" fill="#1c1c1c" stroke="#1c1c1c" stroke-width="0.16">Hybrids</text>
<line x1="636.40" y1="405.70" x2="657.20" y2="405.70" stroke="#45b4ea" stroke-width="2.6"/>
<line x1="774.00" y1="375.30" x2="774.00" y2="393.60" stroke="#c2c2c2" stroke-width="0.9" stroke-dasharray="4.8 2.6"/>
<line x1="846.40" y1="375.30" x2="846.40" y2="393.60" stroke="#c2c2c2" stroke-width="0.9" stroke-dasharray="4.8 2.6"/>
<path d="M777.80 382.7h-2v1.8h2" fill="none" stroke="#f09848" stroke-width="1.0"/>
<g transform="translate(707.50,0.00)">
<path d="M79.7 371.4 C84.4 371.4 87.65 377 87.65 383.3 C87.65 388 86 391.6 83.6 393.4 C82.6 394.2 81.6 393.2 80.6 394 C79.4 395 78 395.8 76.6 395 C73.6 393.4 71.8 389 71.8 383.3 C71.8 377 75 371.4 79.7 371.4Z" fill="#f9dacb" stroke="#c04a6c" stroke-width="1.25"/>
<path d="M77 395.2 C78.6 395.6 79.6 394.2 80.8 393.6 C81.8 393 82.8 393.8 83.8 392.6" fill="none" stroke="#7a58ac" stroke-width="1.5" stroke-linecap="round"/>
<path d="M76.65 386.9 L76.8 392.6" stroke="#e0a890" stroke-width="0.9"/>
<path d="M76.9 386.9 C74.4 385.2 73.3 382.2 73.7 380.2 C74.1 378.2 76.2 378.3 77.3 380.8 C78.6 379.6 81.6 379.5 82.4 381.3 C83 383.2 80 385.7 76.9 386.9Z" fill="#e8500a"/>
</g>
<line x1="796.60" y1="382.60" x2="801.30" y2="382.60" stroke="#f0a060" stroke-width="1"/>
<line x1="796.60" y1="384.50" x2="801.30" y2="384.50" stroke="#f0a060" stroke-width="1"/>
<text transform="translate(802.60,386.60) scale(0.8450,1)" font-size="14.98" text-anchor="start" fill="#1c1c1c" stroke="#1c1c1c" stroke-width="0.16">Sexual</text>
<path d="M842.20 382.7h2.2v1.8h-2.2" fill="none" stroke="#f09848" stroke-width="1.0"/>
<line x1="898.90" y1="374.80" x2="898.90" y2="393.50" stroke="#c2c2c2" stroke-width="0.9" stroke-dasharray="4.8 2.6"/>
<line x1="1012.20" y1="374.80" x2="1012.20" y2="416.20" stroke="#c2c2c2" stroke-width="0.9" stroke-dasharray="4.8 2.6"/>
<line x1="922.60" y1="397.30" x2="922.60" y2="416.20" stroke="#c2c2c2" stroke-width="0.9" stroke-dasharray="4.8 2.6"/>
<line x1="900.80" y1="383.00" x2="911.60" y2="383.00" stroke="#f2ab7a" stroke-width="2.5"/>
<line x1="929.10" y1="382.10" x2="936.40" y2="382.10" stroke="#f2ab7a" stroke-width="1"/>
<line x1="929.10" y1="384.10" x2="936.40" y2="384.10" stroke="#f2ab7a" stroke-width="1"/>
<g transform="translate(707.70,0.10)">
<path d="M212.4 370.2 C217.3 370.2 220.7 376 220.7 382.3 C220.7 387 219 390.4 216.6 392.2 C215.6 393 214.8 391.6 213.8 392.4 C212.8 393.4 211.4 394.8 209.6 394 C206.4 392.4 204.1 388 204.1 382.3 C204.1 376 207.5 370.2 212.4 370.2Z" fill="#f9dacb" stroke="#b8506e" stroke-width="1.25"/>
<path d="M210.6 394.2 C212.2 394 213 392.8 214 392.2 C214.9 391.7 215.6 392.6 216.4 391.8" fill="none" stroke="#7a58ac" stroke-width="1.4" stroke-linecap="round"/>
<path d="M208.2 376 C209.8 375.2 212 375 213.6 375.4 C213.7 376.4 213.2 377.2 212.2 377.9 C211.4 378.6 211 379.4 210.4 380 C209.2 379.4 208.4 377.8 208.2 376Z" fill="#d6007c"/>
<path d="M210.6 386.6 C211.8 385.6 213.4 383.6 214.4 382 C215.6 382.4 216.4 383.6 216.6 385 C216.8 386.2 216.8 387 216.5 387.6 C215.4 388.3 213 388.4 211.4 388 C210.8 387.7 210.5 387.2 210.6 386.6Z" fill="#d6007c"/>
<path d="M208.3 381 C209.2 381.6 209.8 382.6 210.2 383.4 L211.1 384.9 L207.7 384.6 C207.7 383.4 207.9 382 208.3 381Z" fill="#d85008"/>
</g>
<text transform="translate(941.60,386.70) scale(0.8450,1)" font-size="14.98" text-anchor="start" fill="#1c1c1c" stroke="#1c1c1c" stroke-width="0.16">Apomixis</text>
<line x1="996.80" y1="383.00" x2="1010.40" y2="383.00" stroke="#f2ab7a" stroke-width="2.5"/>
<line x1="925.80" y1="405.70" x2="942.40" y2="405.70" stroke="#45b4ea" stroke-width="2.6"/>
<text transform="translate(944.40,409.40) scale(0.8450,1)" font-size="14.98" text-anchor="start" fill="#1c1c1c" stroke="#1c1c1c" stroke-width="0.16">Hybrids</text>
<line x1="989.60" y1="405.70" x2="1010.40" y2="405.70" stroke="#45b4ea" stroke-width="2.6"/>
<text transform="translate(10.00,444.40) scale(1.0000,1)" font-size="22.3" text-anchor="start" fill="#1c1c1c" stroke="#1c1c1c" stroke-width="0.16">d</text>
<circle cx="75.30" cy="432.40" r="2.10" fill="#ff9a14" stroke="none" stroke-width="0"/>
<text transform="translate(81.30,435.80) scale(0.8450,1)" font-size="12.6046" text-anchor="start" fill="#1c1c1c" stroke="#1c1c1c" stroke-width="0.16">SNPs spearman correlation = 0.0448</text>
<circle cx="75.30" cy="448.20" r="2.10" fill="#2ba4b9" stroke="none" stroke-width="0"/>
<text transform="translate(81.30,451.90) scale(0.8450,1)" font-size="12.6046" text-anchor="start" fill="#1c1c1c" stroke="#1c1c1c" stroke-width="0.16">SVs spearman correlation = -0.1692</text>
<text transform="translate(73.00,473.20) scale(0.8450,1)" font-size="12.305" text-anchor="middle" fill="#1c1c1c" stroke="#1c1c1c" stroke-width="0.16">SNPs</text>
<text transform="translate(278.80,473.20) scale(0.8450,1)" font-size="12.305" text-anchor="middle" fill="#1c1c1c" stroke="#1c1c1c" stroke-width="0.16">SVs</text>
<circle cx="114.00" cy="485.60" r="2.30" fill="#2ba4b9" stroke="none" stroke-width="0"/>
<circle cx="101.60" cy="535.50" r="2.30" fill="#2ba4b9" stroke="none" stroke-width="0"/>
<circle cx="101.00" cy="520.60" r="2.30" fill="#2ba4b9" stroke="none" stroke-width="0"/>
<circle cx="86.90" cy="585.60" r="2.30" fill="#2ba4b9" stroke="none" stroke-width="0"/>
<circle cx="88.80" cy="589.80" r="2.30" fill="#2ba4b9" stroke="none" stroke-width="0"/>
<circle cx="118.90" cy="593.20" r="2.30" fill="#2ba4b9" stroke="none" stroke-width="0"/>
<circle cx="134.50" cy="592.10" r="2.30" fill="#2ba4b9" stroke="none" stroke-width="0"/>
<circle cx="154.90" cy="588.10" r="2.30" fill="#2ba4b9" stroke="none" stroke-width="0"/>
<circle cx="84.30" cy="604.10" r="2.30" fill="#2ba4b9" stroke="none" stroke-width="0"/>
<circle cx="91.30" cy="605.20" r="2.30" fill="#2ba4b9" stroke="none" stroke-width="0"/>
<circle cx="109.40" cy="609.40" r="2.30" fill="#2ba4b9" stroke="none" stroke-width="0"/>
<circle cx="83.30" cy="611.70" r="2.30" fill="#2ba4b9" stroke="none" stroke-width="0"/>
<circle cx="85.80" cy="611.50" r="2.30" fill="#2ba4b9" stroke="none" stroke-width="0"/>
<circle cx="84.80" cy="613.20" r="2.30" fill="#2ba4b9" stroke="none" stroke-width="0"/>
<circle cx="120.20" cy="612.10" r="2.30" fill="#2ba4b9" stroke="none" stroke-width="0"/>
<circle cx="134.50" cy="607.30" r="2.30" fill="#2ba4b9" stroke="none" stroke-width="0"/>
<circle cx="134.50" cy="610.00" r="2.30" fill="#2ba4b9" stroke="none" stroke-width="0"/>
<circle cx="135.80" cy="612.80" r="2.30" fill="#2ba4b9" stroke="none" stroke-width="0"/>
<circle cx="134.50" cy="616.60" r="2.30" fill="#2ba4b9" stroke="none" stroke-width="0"/>
<circle cx="141.40" cy="614.30" r="2.30" fill="#2ba4b9" stroke="none" stroke-width="0"/>
<circle cx="105.40" cy="616.80" r="2.30" fill="#2ba4b9" stroke="none" stroke-width="0"/>
<circle cx="107.50" cy="617.00" r="2.30" fill="#2ba4b9" stroke="none" stroke-width="0"/>
<circle cx="109.00" cy="617.80" r="2.30" fill="#2ba4b9" stroke="none" stroke-width="0"/>
<circle cx="85.20" cy="620.60" r="2.30" fill="#2ba4b9" stroke="none" stroke-width="0"/>
<circle cx="102.70" cy="623.30" r="2.30" fill="#2ba4b9" stroke="none" stroke-width="0"/>
<circle cx="103.90" cy="626.90" r="2.30" fill="#2ba4b9" stroke="none" stroke-width="0"/>
<circle cx="84.10" cy="627.10" r="2.30" fill="#2ba4b9" stroke="none" stroke-width="0"/>
<circle cx="100.10" cy="634.10" r="2.30" fill="#2ba4b9" stroke="none" stroke-width="0"/>
<circle cx="123.70" cy="626.90" r="2.30" fill="#2ba4b9" stroke="none" stroke-width="0"/>
<circle cx="120.60" cy="628.40" r="2.30" fill="#2ba4b9" stroke="none" stroke-width="0"/>
<circle cx="119.90" cy="630.50" r="2.30" fill="#2ba4b9" stroke="none" stroke-width="0"/>
<circle cx="122.70" cy="631.10" r="2.30" fill="#2ba4b9" stroke="none" stroke-width="0"/>
<circle cx="121.20" cy="632.60" r="2.30" fill="#2ba4b9" stroke="none" stroke-width="0"/>
<circle cx="123.30" cy="634.30" r="2.30" fill="#2ba4b9" stroke="none" stroke-width="0"/>
<circle cx="162.70" cy="626.30" r="2.30" fill="#2ba4b9" stroke="none" stroke-width="0"/>
<circle cx="197.10" cy="638.50" r="2.30" fill="#2ba4b9" stroke="none" stroke-width="0"/>
<circle cx="218.60" cy="604.10" r="2.30" fill="#2ba4b9" stroke="none" stroke-width="0"/>
<circle cx="218.80" cy="626.30" r="2.30" fill="#2ba4b9" stroke="none" stroke-width="0"/>
<circle cx="270.80" cy="626.10" r="2.30" fill="#2ba4b9" stroke="none" stroke-width="0"/>
<circle cx="103.10" cy="485.40" r="2.80" fill="#ff9a14" stroke="none" stroke-width="0"/>
<circle cx="119.50" cy="483.90" r="2.80" fill="#ff9a14" stroke="none" stroke-width="0"/>
<circle cx="99.50" cy="489.20" r="2.80" fill="#ff9a14" stroke="none" stroke-width="0"/>
<circle cx="120.20" cy="490.00" r="2.80" fill="#ff9a14" stroke="none" stroke-width="0"/>
<circle cx="123.10" cy="491.90" r="2.80" fill="#ff9a14" stroke="none" stroke-width="0"/>
<circle cx="119.90" cy="495.70" r="2.80" fill="#ff9a14" stroke="none" stroke-width="0"/>
<circle cx="119.30" cy="498.20" r="2.80" fill="#ff9a14" stroke="none" stroke-width="0"/>
<circle cx="86.20" cy="498.00" r="2.80" fill="#ff9a14" stroke="none" stroke-width="0"/>
<circle cx="134.10" cy="501.60" r="2.80" fill="#ff9a14" stroke="none" stroke-width="0"/>
<circle cx="133.60" cy="506.00" r="2.80" fill="#ff9a14" stroke="none" stroke-width="0"/>
<circle cx="102.00" cy="506.00" r="2.80" fill="#ff9a14" stroke="none" stroke-width="0"/>
<circle cx="108.60" cy="507.10" r="2.80" fill="#ff9a14" stroke="none" stroke-width="0"/>
<circle cx="83.50" cy="506.90" r="2.80" fill="#ff9a14" stroke="none" stroke-width="0"/>
<circle cx="83.30" cy="509.00" r="2.80" fill="#ff9a14" stroke="none" stroke-width="0"/>
<circle cx="196.70" cy="510.30" r="2.80" fill="#ff9a14" stroke="none" stroke-width="0"/>
<circle cx="122.30" cy="516.20" r="2.80" fill="#ff9a14" stroke="none" stroke-width="0"/>
<circle cx="135.10" cy="519.90" r="2.80" fill="#ff9a14" stroke="none" stroke-width="0"/>
<circle cx="84.30" cy="519.50" r="2.80" fill="#ff9a14" stroke="none" stroke-width="0"/>
<circle cx="101.00" cy="522.30" r="2.80" fill="#ff9a14" stroke="none" stroke-width="0"/>
<circle cx="104.80" cy="524.40" r="2.80" fill="#ff9a14" stroke="none" stroke-width="0"/>
<circle cx="107.90" cy="526.30" r="2.80" fill="#ff9a14" stroke="none" stroke-width="0"/>
<circle cx="106.20" cy="524.80" r="2.80" fill="#ff9a14" stroke="none" stroke-width="0"/>
<circle cx="100.10" cy="529.00" r="2.80" fill="#ff9a14" stroke="none" stroke-width="0"/>
<circle cx="154.30" cy="525.80" r="2.80" fill="#ff9a14" stroke="none" stroke-width="0"/>
<circle cx="162.30" cy="524.80" r="2.80" fill="#ff9a14" stroke="none" stroke-width="0"/>
<circle cx="218.40" cy="523.70" r="2.80" fill="#ff9a14" stroke="none" stroke-width="0"/>
<circle cx="217.90" cy="526.90" r="2.80" fill="#ff9a14" stroke="none" stroke-width="0"/>
<circle cx="83.30" cy="535.30" r="2.80" fill="#ff9a14" stroke="none" stroke-width="0"/>
<circle cx="90.40" cy="537.20" r="2.80" fill="#ff9a14" stroke="none" stroke-width="0"/>
<circle cx="87.90" cy="538.70" r="2.80" fill="#ff9a14" stroke="none" stroke-width="0"/>
<circle cx="118.30" cy="537.90" r="2.80" fill="#ff9a14" stroke="none" stroke-width="0"/>
<circle cx="84.10" cy="555.10" r="2.80" fill="#ff9a14" stroke="none" stroke-width="0"/>
<circle cx="134.10" cy="562.90" r="2.80" fill="#ff9a14" stroke="none" stroke-width="0"/>
<circle cx="140.80" cy="562.10" r="2.80" fill="#ff9a14" stroke="none" stroke-width="0"/>
<circle cx="270.80" cy="565.30" r="2.80" fill="#ff9a14" stroke="none" stroke-width="0"/>
<circle cx="85.20" cy="598.70" r="2.80" fill="#ff9a14" stroke="none" stroke-width="0"/>
<circle cx="218.60" cy="585.40" r="2.80" fill="#ff9a14" stroke="none" stroke-width="0"/>
<circle cx="113.60" cy="647.60" r="2.80" fill="#ff9a14" stroke="none" stroke-width="0"/>
<circle cx="84.30" cy="654.30" r="2.80" fill="#ff9a14" stroke="none" stroke-width="0"/>
<path d="M82.70 481.30 L87.55 482.87 L92.39 484.36 L97.24 485.77 L102.08 487.10 L106.93 488.35 L111.78 489.53 L116.62 490.63 L121.47 491.66 L126.32 492.62 L131.16 493.51 L136.01 494.33 L140.85 495.09 L145.70 495.78 L150.55 496.41 L155.39 496.98 L160.24 497.49 L165.08 497.94 L169.93 498.34 L174.78 498.69 L179.62 498.98 L184.47 499.22 L189.32 499.42 L194.16 499.57 L199.01 499.67 L203.85 499.73 L208.70 499.75 L213.55 499.73 L218.39 499.67 L223.24 499.57 L228.08 499.44 L232.93 499.28 L237.78 499.09 L242.62 498.86 L247.47 498.61 L252.32 498.33 L257.16 498.03 L262.01 497.71 L266.85 497.36 L271.70 497.00 L271.70 572.00 L266.85 570.76 L262.01 569.59 L257.16 568.48 L252.32 567.45 L247.47 566.47 L242.62 565.57 L237.78 564.72 L232.93 563.94 L228.08 563.22 L223.24 562.57 L218.39 561.97 L213.55 561.43 L208.70 560.95 L203.85 560.52 L199.01 560.16 L194.16 559.84 L189.32 559.58 L184.47 559.38 L179.62 559.23 L174.78 559.12 L169.93 559.07 L165.08 559.07 L160.24 559.12 L155.39 559.21 L150.55 559.36 L145.70 559.54 L140.85 559.77 L136.01 560.05 L131.16 560.37 L126.32 560.73 L121.47 561.13 L116.62 561.57 L111.78 562.05 L106.93 562.57 L102.08 563.12 L97.24 563.72 L92.39 564.34 L87.55 565.01 L82.70 565.70Z" fill="#999" fill-opacity="0.31"/>
<path d="M82.70 592.30 L87.55 593.78 L92.39 595.13 L97.24 596.35 L102.08 597.45 L106.93 598.42 L111.78 599.28 L116.62 600.03 L121.47 600.67 L126.32 601.20 L131.16 601.64 L136.01 601.99 L140.85 602.24 L145.70 602.41 L150.55 602.50 L155.39 602.51 L160.24 602.45 L165.08 602.32 L169.93 602.13 L174.78 601.88 L179.62 601.58 L184.47 601.23 L189.32 600.83 L194.16 600.38 L199.01 599.91 L203.85 599.40 L208.70 598.86 L213.55 598.29 L218.39 597.71 L223.24 597.12 L228.08 596.51 L232.93 595.90 L237.78 595.28 L242.62 594.67 L247.47 594.06 L252.32 593.47 L257.16 592.89 L262.01 592.34 L266.85 591.80 L271.70 591.30 L271.70 658.00 L266.85 655.86 L262.01 653.75 L257.16 651.70 L252.32 649.68 L247.47 647.71 L242.62 645.79 L237.78 643.91 L232.93 642.08 L228.08 640.30 L223.24 638.57 L218.39 636.89 L213.55 635.26 L208.70 633.69 L203.85 632.17 L199.01 630.70 L194.16 629.30 L189.32 627.94 L184.47 626.65 L179.62 625.42 L174.78 624.24 L169.93 623.13 L165.08 622.08 L160.24 621.09 L155.39 620.17 L150.55 619.31 L145.70 618.52 L140.85 617.79 L136.01 617.13 L131.16 616.55 L126.32 616.03 L121.47 615.58 L116.62 615.21 L111.78 614.91 L106.93 614.68 L102.08 614.53 L97.24 614.46 L92.39 614.46 L87.55 614.54 L82.70 614.70Z" fill="#999" fill-opacity="0.31"/>
<line x1="82.60" y1="524.40" x2="271.90" y2="535.30" stroke="#333" stroke-width="1"/>
<line x1="82.60" y1="604.10" x2="271.90" y2="625.80" stroke="#333" stroke-width="1"/>
<line x1="74.10" y1="478.20" x2="74.10" y2="657.30" stroke="#333" stroke-width="1"/>
<line x1="280.40" y1="478.20" x2="280.40" y2="657.30" stroke="#333" stroke-width="1"/>
<line x1="74.10" y1="666.20" x2="280.40" y2="666.20" stroke="#333" stroke-width="1"/>
<line x1="83.70" y1="666.20" x2="83.70" y2="670.70" stroke="#333" stroke-width="1"/>
<text transform="translate(83.70,686.00) scale(0.8450,1)" font-size="14.98" text-anchor="middle" fill="#1c1c1c" stroke="#1c1c1c" stroke-width="0.16">0.0</text>
<line x1="142.30" y1="666.20" x2="142.30" y2="670.70" stroke="#333" stroke-width="1"/>
<text transform="translate(142.30,686.00) scale(0.8450,1)" font-size="14.98" text-anchor="middle" fill="#1c1c1c" stroke="#1c1c1c" stroke-width="0.16">0.2</text>
<line x1="201.00" y1="666.20" x2="201.00" y2="670.70" stroke="#333" stroke-width="1"/>
<text transform="translate(201.00,686.00) scale(0.8450,1)" font-size="14.98" text-anchor="middle" fill="#1c1c1c" stroke="#1c1c1c" stroke-width="0.16">0.4</text>
<line x1="259.30" y1="666.20" x2="259.30" y2="670.70" stroke="#333" stroke-width="1"/>
<text transform="translate(259.30,686.00) scale(0.8450,1)" font-size="14.98" text-anchor="middle" fill="#1c1c1c" stroke="#1c1c1c" stroke-width="0.16">0.6</text>
<line x1="68.30" y1="489.00" x2="74.10" y2="489.00" stroke="#333" stroke-width="1"/>
<text transform="translate(67.50,493.60) scale(0.8450,1)" font-size="14.98" text-anchor="end" fill="#1c1c1c" stroke="#1c1c1c" stroke-width="0.16">73600</text>
<line x1="68.30" y1="534.20" x2="74.10" y2="534.20" stroke="#333" stroke-width="1"/>
<text transform="translate(67.50,538.80) scale(0.8450,1)" font-size="14.98" text-anchor="end" fill="#1c1c1c" stroke="#1c1c1c" stroke-width="0.16">73200</text>
<line x1="68.30" y1="579.10" x2="74.10" y2="579.10" stroke="#333" stroke-width="1"/>
<text transform="translate(67.50,583.70) scale(0.8450,1)" font-size="14.98" text-anchor="end" fill="#1c1c1c" stroke="#1c1c1c" stroke-width="0.16">72800</text>
<line x1="68.30" y1="623.90" x2="74.10" y2="623.90" stroke="#333" stroke-width="1"/>
<text transform="translate(67.50,628.50) scale(0.8450,1)" font-size="14.98" text-anchor="end" fill="#1c1c1c" stroke="#1c1c1c" stroke-width="0.16">72400</text>
<line x1="280.40" y1="515.80" x2="285.90" y2="515.80" stroke="#333" stroke-width="1"/>
<text transform="translate(285.80,519.90) scale(0.8450,1)" font-size="14.98" text-anchor="start" fill="#1c1c1c" stroke="#1c1c1c" stroke-width="0.16">120000</text>
<line x1="280.40" y1="560.90" x2="285.90" y2="560.90" stroke="#333" stroke-width="1"/>
<text transform="translate(285.80,565.00) scale(0.8450,1)" font-size="14.98" text-anchor="start" fill="#1c1c1c" stroke="#1c1c1c" stroke-width="0.16">117000</text>
<line x1="280.40" y1="605.80" x2="285.90" y2="605.80" stroke="#333" stroke-width="1"/>
<text transform="translate(285.80,609.90) scale(0.8450,1)" font-size="14.98" text-anchor="start" fill="#1c1c1c" stroke="#1c1c1c" stroke-width="0.16">114000</text>
<line x1="280.40" y1="650.60" x2="285.90" y2="650.60" stroke="#333" stroke-width="1"/>
<text transform="translate(285.80,654.70) scale(0.8450,1)" font-size="14.98" text-anchor="start" fill="#1c1c1c" stroke="#1c1c1c" stroke-width="0.16">111000</text>
<text transform="translate(174.70,702.20) scale(0.9050,1)" font-size="14" text-anchor="middle" fill="#1c1c1c" stroke="#1c1c1c" stroke-width="0.16">Introgression proportion</text>
<text transform="translate(27.00,556.80) rotate(-90) scale(0.8450,1)" font-size="14.8195" text-anchor="middle" fill="#1c1c1c" stroke="#1c1c1c" stroke-width="0.16">No. of deleterious alleles/accession</text>
<text transform="translate(351.80,444.60) scale(1.0000,1)" font-size="22.3" text-anchor="start" fill="#1c1c1c" stroke="#1c1c1c" stroke-width="0.16">e</text>
<circle cx="432.50" cy="432.40" r="2.10" fill="#ff9a14" stroke="none" stroke-width="0"/>
<text transform="translate(438.50,435.80) scale(0.8450,1)" font-size="12.6046" text-anchor="start" fill="#1c1c1c" stroke="#1c1c1c" stroke-width="0.16">SNPs spearman correlation = 0.6306***</text>
<circle cx="432.50" cy="448.20" r="2.10" fill="#2ba4b9" stroke="none" stroke-width="0"/>
<text transform="translate(438.50,451.90) scale(0.8450,1)" font-size="12.6046" text-anchor="start" fill="#1c1c1c" stroke="#1c1c1c" stroke-width="0.16">SVs spearman correlation = 0.4955***</text>
<text transform="translate(434.00,473.20) scale(0.8450,1)" font-size="12.305" text-anchor="middle" fill="#1c1c1c" stroke="#1c1c1c" stroke-width="0.16">SNPs</text>
<text transform="translate(638.70,473.20) scale(0.8450,1)" font-size="12.305" text-anchor="middle" fill="#1c1c1c" stroke="#1c1c1c" stroke-width="0.16">SVs</text>
<circle cx="481.10" cy="572.50" r="2.30" fill="#ff9a14" stroke="none" stroke-width="0"/>
<circle cx="493.80" cy="572.50" r="2.30" fill="#ff9a14" stroke="none" stroke-width="0"/>
<circle cx="492.90" cy="575.90" r="2.30" fill="#ff9a14" stroke="none" stroke-width="0"/>
<circle cx="521.40" cy="575.50" r="2.30" fill="#ff9a14" stroke="none" stroke-width="0"/>
<circle cx="513.60" cy="578.40" r="2.30" fill="#ff9a14" stroke="none" stroke-width="0"/>
<circle cx="500.10" cy="585.80" r="2.30" fill="#ff9a14" stroke="none" stroke-width="0"/>
<circle cx="442.30" cy="585.20" r="2.30" fill="#ff9a14" stroke="none" stroke-width="0"/>
<circle cx="442.80" cy="589.00" r="2.30" fill="#ff9a14" stroke="none" stroke-width="0"/>
<circle cx="441.50" cy="591.70" r="2.30" fill="#ff9a14" stroke="none" stroke-width="0"/>
<circle cx="460.90" cy="588.30" r="2.30" fill="#ff9a14" stroke="none" stroke-width="0"/>
<circle cx="442.80" cy="599.10" r="2.30" fill="#ff9a14" stroke="none" stroke-width="0"/>
<circle cx="472.70" cy="595.90" r="2.30" fill="#ff9a14" stroke="none" stroke-width="0"/>
<circle cx="482.40" cy="595.30" r="2.30" fill="#ff9a14" stroke="none" stroke-width="0"/>
<circle cx="493.30" cy="594.40" r="2.30" fill="#ff9a14" stroke="none" stroke-width="0"/>
<circle cx="478.20" cy="597.00" r="2.30" fill="#ff9a14" stroke="none" stroke-width="0"/>
<circle cx="467.60" cy="599.50" r="2.30" fill="#ff9a14" stroke="none" stroke-width="0"/>
<circle cx="479.00" cy="601.60" r="2.30" fill="#ff9a14" stroke="none" stroke-width="0"/>
<circle cx="467.00" cy="603.30" r="2.30" fill="#ff9a14" stroke="none" stroke-width="0"/>
<circle cx="459.20" cy="613.60" r="2.30" fill="#ff9a14" stroke="none" stroke-width="0"/>
<circle cx="464.90" cy="620.60" r="2.30" fill="#ff9a14" stroke="none" stroke-width="0"/>
<circle cx="458.60" cy="623.70" r="2.30" fill="#ff9a14" stroke="none" stroke-width="0"/>
<circle cx="462.10" cy="624.80" r="2.30" fill="#ff9a14" stroke="none" stroke-width="0"/>
<circle cx="477.10" cy="626.50" r="2.30" fill="#ff9a14" stroke="none" stroke-width="0"/>
<circle cx="443.20" cy="634.50" r="2.30" fill="#ff9a14" stroke="none" stroke-width="0"/>
<circle cx="478.60" cy="636.00" r="2.30" fill="#ff9a14" stroke="none" stroke-width="0"/>
<circle cx="445.30" cy="641.90" r="2.30" fill="#ff9a14" stroke="none" stroke-width="0"/>
<circle cx="444.00" cy="648.60" r="2.30" fill="#ff9a14" stroke="none" stroke-width="0"/>
<circle cx="443.20" cy="656.40" r="2.30" fill="#ff9a14" stroke="none" stroke-width="0"/>
<circle cx="449.30" cy="654.90" r="2.30" fill="#ff9a14" stroke="none" stroke-width="0"/>
<circle cx="629.90" cy="495.30" r="2.30" fill="#ff9a14" stroke="none" stroke-width="0"/>
<circle cx="555.90" cy="556.00" r="2.30" fill="#ff9a14" stroke="none" stroke-width="0"/>
<circle cx="577.60" cy="558.70" r="2.30" fill="#ff9a14" stroke="none" stroke-width="0"/>
<circle cx="577.60" cy="545.40" r="2.30" fill="#ff9a14" stroke="none" stroke-width="0"/>
<circle cx="447.40" cy="591.90" r="2.30" fill="#2ba4b9" stroke="none" stroke-width="0"/>
<circle cx="514.00" cy="594.20" r="2.30" fill="#2ba4b9" stroke="none" stroke-width="0"/>
<circle cx="460.00" cy="610.00" r="2.30" fill="#2ba4b9" stroke="none" stroke-width="0"/>
<circle cx="459.60" cy="635.50" r="2.30" fill="#2ba4b9" stroke="none" stroke-width="0"/>
<circle cx="473.10" cy="659.40" r="2.30" fill="#2ba4b9" stroke="none" stroke-width="0"/>
<circle cx="442.80" cy="542.30" r="2.30" fill="#2ba4b9" stroke="none" stroke-width="0"/>
<circle cx="443.20" cy="545.40" r="2.30" fill="#2ba4b9" stroke="none" stroke-width="0"/>
<circle cx="442.80" cy="548.40" r="2.30" fill="#2ba4b9" stroke="none" stroke-width="0"/>
<circle cx="442.80" cy="551.10" r="2.30" fill="#2ba4b9" stroke="none" stroke-width="0"/>
<circle cx="442.80" cy="553.70" r="2.30" fill="#2ba4b9" stroke="none" stroke-width="0"/>
<circle cx="444.00" cy="554.70" r="2.30" fill="#2ba4b9" stroke="none" stroke-width="0"/>
<circle cx="449.70" cy="551.60" r="2.30" fill="#2ba4b9" stroke="none" stroke-width="0"/>
<circle cx="461.50" cy="537.60" r="2.30" fill="#2ba4b9" stroke="none" stroke-width="0"/>
<circle cx="459.00" cy="552.00" r="2.30" fill="#2ba4b9" stroke="none" stroke-width="0"/>
<circle cx="467.40" cy="551.80" r="2.30" fill="#2ba4b9" stroke="none" stroke-width="0"/>
<circle cx="462.80" cy="555.40" r="2.30" fill="#2ba4b9" stroke="none" stroke-width="0"/>
<circle cx="464.20" cy="558.10" r="2.30" fill="#2ba4b9" stroke="none" stroke-width="0"/>
<circle cx="445.50" cy="560.60" r="2.30" fill="#2ba4b9" stroke="none" stroke-width="0"/>
<circle cx="443.80" cy="562.10" r="2.30" fill="#2ba4b9" stroke="none" stroke-width="0"/>
<circle cx="444.90" cy="565.30" r="2.30" fill="#2ba4b9" stroke="none" stroke-width="0"/>
<circle cx="468.50" cy="560.20" r="2.30" fill="#2ba4b9" stroke="none" stroke-width="0"/>
<circle cx="465.50" cy="563.40" r="2.30" fill="#2ba4b9" stroke="none" stroke-width="0"/>
<circle cx="481.70" cy="532.20" r="2.30" fill="#2ba4b9" stroke="none" stroke-width="0"/>
<circle cx="482.00" cy="533.90" r="2.30" fill="#2ba4b9" stroke="none" stroke-width="0"/>
<circle cx="478.60" cy="541.20" r="2.30" fill="#2ba4b9" stroke="none" stroke-width="0"/>
<circle cx="479.60" cy="543.80" r="2.30" fill="#2ba4b9" stroke="none" stroke-width="0"/>
<circle cx="482.80" cy="544.20" r="2.30" fill="#2ba4b9" stroke="none" stroke-width="0"/>
<circle cx="479.60" cy="546.30" r="2.30" fill="#2ba4b9" stroke="none" stroke-width="0"/>
<circle cx="482.80" cy="547.60" r="2.30" fill="#2ba4b9" stroke="none" stroke-width="0"/>
<circle cx="479.60" cy="554.30" r="2.30" fill="#2ba4b9" stroke="none" stroke-width="0"/>
<circle cx="478.00" cy="556.40" r="2.30" fill="#2ba4b9" stroke="none" stroke-width="0"/>
<circle cx="493.50" cy="537.20" r="2.30" fill="#2ba4b9" stroke="none" stroke-width="0"/>
<circle cx="500.30" cy="533.40" r="2.30" fill="#2ba4b9" stroke="none" stroke-width="0"/>
<circle cx="494.80" cy="544.20" r="2.30" fill="#2ba4b9" stroke="none" stroke-width="0"/>
<circle cx="493.30" cy="546.90" r="2.30" fill="#2ba4b9" stroke="none" stroke-width="0"/>
<circle cx="493.80" cy="553.90" r="2.30" fill="#2ba4b9" stroke="none" stroke-width="0"/>
<circle cx="522.00" cy="546.30" r="2.30" fill="#2ba4b9" stroke="none" stroke-width="0"/>
<circle cx="556.60" cy="513.80" r="2.30" fill="#2ba4b9" stroke="none" stroke-width="0"/>
<circle cx="578.10" cy="518.70" r="2.30" fill="#2ba4b9" stroke="none" stroke-width="0"/>
<circle cx="578.10" cy="543.80" r="2.30" fill="#2ba4b9" stroke="none" stroke-width="0"/>
<circle cx="631.00" cy="509.20" r="2.30" fill="#2ba4b9" stroke="none" stroke-width="0"/>
<path d="M441.70 555.13 L446.55 554.95 L451.41 554.61 L456.26 554.12 L461.12 553.49 L465.97 552.73 L470.82 551.83 L475.68 550.82 L480.53 549.68 L485.38 548.44 L490.24 547.11 L495.09 545.67 L499.95 544.15 L504.80 542.55 L509.65 540.88 L514.51 539.14 L519.36 537.34 L524.22 535.49 L529.07 533.60 L533.92 531.66 L538.78 529.70 L543.63 527.71 L548.48 525.71 L553.34 523.69 L558.19 521.68 L563.05 519.66 L567.90 517.66 L572.75 515.68 L577.61 513.72 L582.46 511.79 L587.32 509.90 L592.17 508.06 L597.02 506.27 L601.88 504.54 L606.73 502.88 L611.58 501.29 L616.44 499.79 L621.29 498.37 L626.15 497.05 L631.00 495.82 L631.00 545.56 L626.15 545.69 L621.29 545.82 L616.44 545.97 L611.58 546.13 L606.73 546.30 L601.88 546.49 L597.02 546.70 L592.17 546.93 L587.32 547.18 L582.46 547.46 L577.61 547.76 L572.75 548.10 L567.90 548.46 L563.05 548.86 L558.19 549.29 L553.34 549.75 L548.48 550.26 L543.63 550.81 L538.78 551.39 L533.92 552.03 L529.07 552.71 L524.22 553.44 L519.36 554.22 L514.51 555.05 L509.65 555.93 L504.80 556.88 L499.95 557.88 L495.09 558.94 L490.24 560.06 L485.38 561.25 L480.53 562.51 L475.68 563.83 L470.82 565.23 L465.97 566.69 L461.12 568.23 L456.26 569.85 L451.41 571.55 L446.55 573.32 L441.70 575.18Z" fill="#999" fill-opacity="0.31"/>
<path d="M441.70 612.09 L446.55 610.03 L451.41 607.88 L456.26 605.65 L461.12 603.35 L465.97 600.96 L470.82 598.50 L475.68 595.97 L480.53 593.36 L485.38 590.69 L490.24 587.95 L495.09 585.14 L499.95 582.27 L504.80 579.34 L509.65 576.34 L514.51 573.29 L519.36 570.19 L524.22 567.03 L529.07 563.82 L533.92 560.56 L538.78 557.25 L543.63 553.89 L548.48 550.50 L553.34 547.06 L558.19 543.58 L563.05 540.06 L567.90 536.51 L572.75 532.93 L577.61 529.31 L582.46 525.66 L587.32 521.99 L592.17 518.29 L597.02 514.56 L601.88 510.82 L606.73 507.05 L611.58 503.27 L616.44 499.47 L621.29 495.65 L626.15 491.83 L631.00 488.00 L631.00 533.98 L626.15 535.54 L621.29 537.13 L616.44 538.75 L611.58 540.41 L606.73 542.10 L601.88 543.83 L597.02 545.60 L592.17 547.40 L587.32 549.24 L582.46 551.12 L577.61 553.05 L572.75 555.01 L567.90 557.02 L563.05 559.08 L558.19 561.18 L553.34 563.32 L548.48 565.52 L543.63 567.76 L538.78 570.06 L533.92 572.41 L529.07 574.81 L524.22 577.26 L519.36 579.77 L514.51 582.33 L509.65 584.96 L504.80 587.64 L499.95 590.38 L495.09 593.18 L490.24 596.04 L485.38 598.97 L480.53 601.96 L475.68 605.01 L470.82 608.14 L465.97 611.32 L461.12 614.58 L456.26 617.91 L451.41 621.31 L446.55 624.78 L441.70 628.33Z" fill="#999" fill-opacity="0.31"/>
<line x1="441.70" y1="564.20" x2="631.00" y2="516.80" stroke="#333" stroke-width="1"/>
<line x1="441.70" y1="620.20" x2="631.00" y2="510.00" stroke="#333" stroke-width="1"/>
<line x1="432.60" y1="479.50" x2="432.60" y2="659.00" stroke="#333" stroke-width="1"/>
<line x1="640.30" y1="479.50" x2="640.30" y2="659.00" stroke="#333" stroke-width="1"/>
<line x1="432.60" y1="667.90" x2="640.30" y2="667.90" stroke="#333" stroke-width="1"/>
<line x1="443.00" y1="667.90" x2="443.00" y2="672.40" stroke="#333" stroke-width="1"/>
<text transform="translate(443.00,686.00) scale(0.8450,1)" font-size="14.98" text-anchor="middle" fill="#1c1c1c" stroke="#1c1c1c" stroke-width="0.16">0.0</text>
<line x1="501.70" y1="667.90" x2="501.70" y2="672.40" stroke="#333" stroke-width="1"/>
<text transform="translate(501.70,686.00) scale(0.8450,1)" font-size="14.98" text-anchor="middle" fill="#1c1c1c" stroke="#1c1c1c" stroke-width="0.16">0.2</text>
<line x1="560.00" y1="667.90" x2="560.00" y2="672.40" stroke="#333" stroke-width="1"/>
<text transform="translate(560.00,686.00) scale(0.8450,1)" font-size="14.98" text-anchor="middle" fill="#1c1c1c" stroke="#1c1c1c" stroke-width="0.16">0.4</text>
<line x1="618.30" y1="667.90" x2="618.30" y2="672.40" stroke="#333" stroke-width="1"/>
<text transform="translate(618.30,686.00) scale(0.8450,1)" font-size="14.98" text-anchor="middle" fill="#1c1c1c" stroke="#1c1c1c" stroke-width="0.16">0.6</text>
<line x1="426.80" y1="487.30" x2="432.60" y2="487.30" stroke="#333" stroke-width="1"/>
<text transform="translate(425.60,492.90) scale(0.8450,1)" font-size="14.98" text-anchor="end" fill="#1c1c1c" stroke="#1c1c1c" stroke-width="0.16">8000</text>
<line x1="426.80" y1="525.20" x2="432.60" y2="525.20" stroke="#333" stroke-width="1"/>
<text transform="translate(425.60,530.80) scale(0.8450,1)" font-size="14.98" text-anchor="end" fill="#1c1c1c" stroke="#1c1c1c" stroke-width="0.16">7000</text>
<line x1="426.80" y1="563.10" x2="432.60" y2="563.10" stroke="#333" stroke-width="1"/>
<text transform="translate(425.60,568.70) scale(0.8450,1)" font-size="14.98" text-anchor="end" fill="#1c1c1c" stroke="#1c1c1c" stroke-width="0.16">6000</text>
<line x1="426.80" y1="601.00" x2="432.60" y2="601.00" stroke="#333" stroke-width="1"/>
<text transform="translate(425.60,606.60) scale(0.8450,1)" font-size="14.98" text-anchor="end" fill="#1c1c1c" stroke="#1c1c1c" stroke-width="0.16">5000</text>
<line x1="426.80" y1="638.80" x2="432.60" y2="638.80" stroke="#333" stroke-width="1"/>
<text transform="translate(425.60,644.40) scale(0.8450,1)" font-size="14.98" text-anchor="end" fill="#1c1c1c" stroke="#1c1c1c" stroke-width="0.16">4000</text>
<line x1="640.30" y1="492.30" x2="645.80" y2="492.30" stroke="#333" stroke-width="1"/>
<text transform="translate(645.90,497.20) scale(0.8450,1)" font-size="14.98" text-anchor="start" fill="#1c1c1c" stroke="#1c1c1c" stroke-width="0.16">35000</text>
<line x1="640.30" y1="530.60" x2="645.80" y2="530.60" stroke="#333" stroke-width="1"/>
<text transform="translate(645.90,535.50) scale(0.8450,1)" font-size="14.98" text-anchor="start" fill="#1c1c1c" stroke="#1c1c1c" stroke-width="0.16">30000</text>
<line x1="640.30" y1="568.50" x2="645.80" y2="568.50" stroke="#333" stroke-width="1"/>
<text transform="translate(645.90,573.40) scale(0.8450,1)" font-size="14.98" text-anchor="start" fill="#1c1c1c" stroke="#1c1c1c" stroke-width="0.16">25000</text>
<line x1="640.30" y1="606.40" x2="645.80" y2="606.40" stroke="#333" stroke-width="1"/>
<text transform="translate(645.90,611.30) scale(0.8450,1)" font-size="14.98" text-anchor="start" fill="#1c1c1c" stroke="#1c1c1c" stroke-width="0.16">20000</text>
<line x1="640.30" y1="644.20" x2="645.80" y2="644.20" stroke="#333" stroke-width="1"/>
<text transform="translate(645.90,649.10) scale(0.8450,1)" font-size="14.98" text-anchor="start" fill="#1c1c1c" stroke="#1c1c1c" stroke-width="0.16">15000</text>
<text transform="translate(532.50,702.20) scale(0.9050,1)" font-size="14" text-anchor="middle" fill="#1c1c1c" stroke="#1c1c1c" stroke-width="0.16">Introgression proportion</text>
<text transform="translate(371.00,567.50) rotate(-90) scale(0.8450,1)" font-size="15.2475" text-anchor="middle" fill="#1c1c1c" stroke="#1c1c1c" stroke-width="0.16">No. of heterozygous</text>
<text transform="translate(389.00,567.50) rotate(-90) scale(0.8450,1)" font-size="15.2475" text-anchor="middle" fill="#1c1c1c" stroke="#1c1c1c" stroke-width="0.16">deleterious alleles/accession</text>
<text transform="translate(716.50,445.30) scale(1.0000,1)" font-size="22.3" text-anchor="start" fill="#1c1c1c" stroke="#1c1c1c" stroke-width="0.16">f</text>
<circle cx="784.30" cy="432.40" r="2.10" fill="#ff9a14" stroke="none" stroke-width="0"/>
<text transform="translate(790.00,435.80) scale(0.8450,1)" font-size="12.6046" text-anchor="start" fill="#1c1c1c" stroke="#1c1c1c" stroke-width="0.16">SNPs spearman correlation = -0.6172***</text>
<circle cx="784.30" cy="448.20" r="2.10" fill="#2ba4b9" stroke="none" stroke-width="0"/>
<text transform="translate(790.00,451.90) scale(0.8450,1)" font-size="12.6046" text-anchor="start" fill="#1c1c1c" stroke="#1c1c1c" stroke-width="0.16">SVs spearman correlation = -0.4413***</text>
<text transform="translate(785.50,473.20) scale(0.8450,1)" font-size="12.305" text-anchor="middle" fill="#1c1c1c" stroke="#1c1c1c" stroke-width="0.16">SNPs</text>
<text transform="translate(990.50,473.20) scale(0.8450,1)" font-size="12.305" text-anchor="middle" fill="#1c1c1c" stroke="#1c1c1c" stroke-width="0.16">SVs</text>
<circle cx="798.50" cy="491.40" r="2.30" fill="#ff9a14" stroke="none" stroke-width="0"/>
<circle cx="802.80" cy="488.90" r="2.30" fill="#ff9a14" stroke="none" stroke-width="0"/>
<circle cx="831.60" cy="494.00" r="2.30" fill="#ff9a14" stroke="none" stroke-width="0"/>
<circle cx="831.80" cy="496.10" r="2.30" fill="#ff9a14" stroke="none" stroke-width="0"/>
<circle cx="796.90" cy="504.70" r="2.30" fill="#ff9a14" stroke="none" stroke-width="0"/>
<circle cx="811.60" cy="507.20" r="2.30" fill="#ff9a14" stroke="none" stroke-width="0"/>
<circle cx="815.40" cy="505.60" r="2.30" fill="#ff9a14" stroke="none" stroke-width="0"/>
<circle cx="797.30" cy="512.50" r="2.30" fill="#ff9a14" stroke="none" stroke-width="0"/>
<circle cx="796.40" cy="519.30" r="2.30" fill="#ff9a14" stroke="none" stroke-width="0"/>
<circle cx="830.20" cy="518.00" r="2.30" fill="#ff9a14" stroke="none" stroke-width="0"/>
<circle cx="817.10" cy="519.70" r="2.30" fill="#ff9a14" stroke="none" stroke-width="0"/>
<circle cx="818.80" cy="519.90" r="2.30" fill="#ff9a14" stroke="none" stroke-width="0"/>
<circle cx="812.50" cy="528.70" r="2.30" fill="#ff9a14" stroke="none" stroke-width="0"/>
<circle cx="813.30" cy="530.20" r="2.30" fill="#ff9a14" stroke="none" stroke-width="0"/>
<circle cx="832.30" cy="530.20" r="2.30" fill="#ff9a14" stroke="none" stroke-width="0"/>
<circle cx="831.60" cy="535.70" r="2.30" fill="#ff9a14" stroke="none" stroke-width="0"/>
<circle cx="835.40" cy="537.00" r="2.30" fill="#ff9a14" stroke="none" stroke-width="0"/>
<circle cx="820.50" cy="537.20" r="2.30" fill="#ff9a14" stroke="none" stroke-width="0"/>
<circle cx="814.10" cy="547.90" r="2.30" fill="#ff9a14" stroke="none" stroke-width="0"/>
<circle cx="795.20" cy="550.90" r="2.30" fill="#ff9a14" stroke="none" stroke-width="0"/>
<circle cx="796.40" cy="554.00" r="2.30" fill="#ff9a14" stroke="none" stroke-width="0"/>
<circle cx="800.20" cy="553.60" r="2.30" fill="#ff9a14" stroke="none" stroke-width="0"/>
<circle cx="846.00" cy="557.60" r="2.30" fill="#ff9a14" stroke="none" stroke-width="0"/>
<circle cx="845.80" cy="561.40" r="2.30" fill="#ff9a14" stroke="none" stroke-width="0"/>
<circle cx="834.40" cy="566.90" r="2.30" fill="#ff9a14" stroke="none" stroke-width="0"/>
<circle cx="847.00" cy="567.70" r="2.30" fill="#ff9a14" stroke="none" stroke-width="0"/>
<circle cx="852.90" cy="566.00" r="2.30" fill="#ff9a14" stroke="none" stroke-width="0"/>
<circle cx="866.80" cy="563.10" r="2.30" fill="#ff9a14" stroke="none" stroke-width="0"/>
<circle cx="874.20" cy="566.30" r="2.30" fill="#ff9a14" stroke="none" stroke-width="0"/>
<circle cx="825.90" cy="579.30" r="2.30" fill="#ff9a14" stroke="none" stroke-width="0"/>
<circle cx="908.60" cy="581.80" r="2.30" fill="#ff9a14" stroke="none" stroke-width="0"/>
<circle cx="930.10" cy="596.30" r="2.30" fill="#ff9a14" stroke="none" stroke-width="0"/>
<circle cx="930.10" cy="598.50" r="2.30" fill="#ff9a14" stroke="none" stroke-width="0"/>
<circle cx="929.60" cy="600.10" r="2.30" fill="#ff9a14" stroke="none" stroke-width="0"/>
<circle cx="982.30" cy="658.90" r="2.30" fill="#ff9a14" stroke="none" stroke-width="0"/>
<circle cx="825.50" cy="488.90" r="2.30" fill="#2ba4b9" stroke="none" stroke-width="0"/>
<circle cx="812.00" cy="516.70" r="2.30" fill="#2ba4b9" stroke="none" stroke-width="0"/>
<circle cx="813.10" cy="538.00" r="2.30" fill="#2ba4b9" stroke="none" stroke-width="0"/>
<circle cx="800.00" cy="568.20" r="2.30" fill="#2ba4b9" stroke="none" stroke-width="0"/>
<circle cx="866.00" cy="566.30" r="2.30" fill="#2ba4b9" stroke="none" stroke-width="0"/>
<circle cx="798.10" cy="588.10" r="2.30" fill="#2ba4b9" stroke="none" stroke-width="0"/>
<circle cx="796.90" cy="593.20" r="2.30" fill="#2ba4b9" stroke="none" stroke-width="0"/>
<circle cx="796.40" cy="595.90" r="2.30" fill="#2ba4b9" stroke="none" stroke-width="0"/>
<circle cx="794.30" cy="601.60" r="2.30" fill="#2ba4b9" stroke="none" stroke-width="0"/>
<circle cx="796.00" cy="603.70" r="2.30" fill="#2ba4b9" stroke="none" stroke-width="0"/>
<circle cx="796.00" cy="606.20" r="2.30" fill="#2ba4b9" stroke="none" stroke-width="0"/>
<circle cx="802.60" cy="600.30" r="2.30" fill="#2ba4b9" stroke="none" stroke-width="0"/>
<circle cx="795.20" cy="613.80" r="2.30" fill="#2ba4b9" stroke="none" stroke-width="0"/>
<circle cx="811.60" cy="609.40" r="2.30" fill="#2ba4b9" stroke="none" stroke-width="0"/>
<circle cx="813.90" cy="615.30" r="2.30" fill="#2ba4b9" stroke="none" stroke-width="0"/>
<circle cx="815.00" cy="604.80" r="2.30" fill="#2ba4b9" stroke="none" stroke-width="0"/>
<circle cx="816.90" cy="599.10" r="2.30" fill="#2ba4b9" stroke="none" stroke-width="0"/>
<circle cx="817.90" cy="596.80" r="2.30" fill="#2ba4b9" stroke="none" stroke-width="0"/>
<circle cx="820.50" cy="596.30" r="2.30" fill="#2ba4b9" stroke="none" stroke-width="0"/>
<circle cx="820.00" cy="603.90" r="2.30" fill="#2ba4b9" stroke="none" stroke-width="0"/>
<circle cx="830.20" cy="592.80" r="2.30" fill="#2ba4b9" stroke="none" stroke-width="0"/>
<circle cx="831.40" cy="599.70" r="2.30" fill="#2ba4b9" stroke="none" stroke-width="0"/>
<circle cx="831.60" cy="607.90" r="2.30" fill="#2ba4b9" stroke="none" stroke-width="0"/>
<circle cx="834.80" cy="610.00" r="2.30" fill="#2ba4b9" stroke="none" stroke-width="0"/>
<circle cx="831.40" cy="613.20" r="2.30" fill="#2ba4b9" stroke="none" stroke-width="0"/>
<circle cx="834.40" cy="613.60" r="2.30" fill="#2ba4b9" stroke="none" stroke-width="0"/>
<circle cx="831.20" cy="615.30" r="2.30" fill="#2ba4b9" stroke="none" stroke-width="0"/>
<circle cx="834.00" cy="621.20" r="2.30" fill="#2ba4b9" stroke="none" stroke-width="0"/>
<circle cx="846.00" cy="594.40" r="2.30" fill="#2ba4b9" stroke="none" stroke-width="0"/>
<circle cx="845.30" cy="603.90" r="2.30" fill="#2ba4b9" stroke="none" stroke-width="0"/>
<circle cx="846.60" cy="607.30" r="2.30" fill="#2ba4b9" stroke="none" stroke-width="0"/>
<circle cx="845.80" cy="613.60" r="2.30" fill="#2ba4b9" stroke="none" stroke-width="0"/>
<circle cx="852.50" cy="614.90" r="2.30" fill="#2ba4b9" stroke="none" stroke-width="0"/>
<circle cx="874.00" cy="610.70" r="2.30" fill="#2ba4b9" stroke="none" stroke-width="0"/>
<circle cx="908.30" cy="636.60" r="2.30" fill="#2ba4b9" stroke="none" stroke-width="0"/>
<circle cx="929.60" cy="605.00" r="2.30" fill="#2ba4b9" stroke="none" stroke-width="0"/>
<circle cx="929.60" cy="629.20" r="2.30" fill="#2ba4b9" stroke="none" stroke-width="0"/>
<circle cx="981.90" cy="635.30" r="2.30" fill="#2ba4b9" stroke="none" stroke-width="0"/>
<path d="M794.80 579.45 L799.60 581.27 L804.39 582.96 L809.19 584.54 L813.99 586.01 L818.79 587.37 L823.58 588.63 L828.38 589.79 L833.18 590.85 L837.98 591.82 L842.77 592.70 L847.57 593.50 L852.37 594.23 L857.17 594.88 L861.96 595.46 L866.76 595.97 L871.56 596.42 L876.36 596.81 L881.15 597.16 L885.95 597.45 L890.75 597.70 L895.55 597.90 L900.34 598.07 L905.14 598.21 L909.94 598.32 L914.74 598.41 L919.53 598.47 L924.33 598.53 L929.13 598.57 L933.93 598.60 L938.72 598.63 L943.52 598.66 L948.32 598.70 L953.12 598.75 L957.91 598.81 L962.71 598.89 L967.51 599.00 L972.31 599.13 L977.10 599.29 L981.90 599.48 L981.90 655.59 L977.10 653.82 L972.31 652.02 L967.51 650.20 L962.71 648.36 L957.91 646.51 L953.12 644.65 L948.32 642.78 L943.52 640.91 L938.72 639.04 L933.93 637.18 L929.13 635.32 L924.33 633.48 L919.53 631.65 L914.74 629.84 L909.94 628.06 L905.14 626.30 L900.34 624.57 L895.55 622.88 L890.75 621.23 L885.95 619.61 L881.15 618.05 L876.36 616.53 L871.56 615.06 L866.76 613.65 L861.96 612.31 L857.17 611.02 L852.37 609.81 L847.57 608.66 L842.77 607.59 L837.98 606.60 L833.18 605.70 L828.38 604.87 L823.58 604.14 L818.79 603.51 L813.99 602.97 L809.19 602.53 L804.39 602.19 L799.60 601.97 L794.80 601.85Z" fill="#999" fill-opacity="0.31"/>
<path d="M795.80 514.91 L800.57 518.65 L805.34 522.27 L810.12 525.77 L814.89 529.16 L819.66 532.45 L824.43 535.63 L829.20 538.72 L833.97 541.71 L838.75 544.61 L843.52 547.42 L848.29 550.16 L853.06 552.81 L857.83 555.39 L862.61 557.90 L867.38 560.35 L872.15 562.73 L876.92 565.06 L881.69 567.33 L886.46 569.55 L891.24 571.73 L896.01 573.87 L900.78 575.97 L905.55 578.03 L910.32 580.07 L915.09 582.09 L919.87 584.08 L924.64 586.05 L929.41 588.02 L934.18 589.97 L938.95 591.92 L943.73 593.87 L948.50 595.82 L953.27 597.78 L958.04 599.76 L962.81 601.75 L967.58 603.75 L972.36 605.79 L977.13 607.85 L981.90 609.94 L981.90 657.49 L977.13 653.25 L972.36 649.07 L967.58 644.93 L962.81 640.84 L958.04 636.80 L953.27 632.81 L948.50 628.87 L943.73 624.98 L938.95 621.14 L934.18 617.35 L929.41 613.61 L924.64 609.92 L919.87 606.28 L915.09 602.69 L910.32 599.15 L905.55 595.66 L900.78 592.23 L896.01 588.85 L891.24 585.52 L886.46 582.24 L881.69 579.01 L876.92 575.84 L872.15 572.72 L867.38 569.65 L862.61 566.64 L857.83 563.68 L853.06 560.77 L848.29 557.92 L843.52 555.12 L838.75 552.38 L833.97 549.69 L829.20 547.05 L824.43 544.48 L819.66 541.95 L814.89 539.49 L810.12 537.07 L805.34 534.72 L800.57 532.42 L795.80 530.18Z" fill="#999" fill-opacity="0.31"/>
<line x1="794.80" y1="591.10" x2="981.90" y2="630.10" stroke="#333" stroke-width="1"/>
<line x1="795.80" y1="520.30" x2="981.90" y2="634.30" stroke="#333" stroke-width="1"/>
<line x1="785.60" y1="479.50" x2="785.60" y2="659.00" stroke="#333" stroke-width="1"/>
<line x1="991.40" y1="479.50" x2="991.40" y2="659.00" stroke="#333" stroke-width="1"/>
<line x1="785.60" y1="667.90" x2="991.40" y2="667.90" stroke="#333" stroke-width="1"/>
<line x1="794.70" y1="667.90" x2="794.70" y2="672.40" stroke="#333" stroke-width="1"/>
<text transform="translate(794.70,686.00) scale(0.8450,1)" font-size="14.98" text-anchor="middle" fill="#1c1c1c" stroke="#1c1c1c" stroke-width="0.16">0.0</text>
<line x1="853.30" y1="667.90" x2="853.30" y2="672.40" stroke="#333" stroke-width="1"/>
<text transform="translate(853.30,686.00) scale(0.8450,1)" font-size="14.98" text-anchor="middle" fill="#1c1c1c" stroke="#1c1c1c" stroke-width="0.16">0.2</text>
<line x1="911.70" y1="667.90" x2="911.70" y2="672.40" stroke="#333" stroke-width="1"/>
<text transform="translate(911.70,686.00) scale(0.8450,1)" font-size="14.98" text-anchor="middle" fill="#1c1c1c" stroke="#1c1c1c" stroke-width="0.16">0.4</text>
<line x1="970.00" y1="667.90" x2="970.00" y2="672.40" stroke="#333" stroke-width="1"/>
<text transform="translate(970.00,686.00) scale(0.8450,1)" font-size="14.98" text-anchor="middle" fill="#1c1c1c" stroke="#1c1c1c" stroke-width="0.16">0.6</text>
<line x1="779.80" y1="505.70" x2="785.60" y2="505.70" stroke="#333" stroke-width="1"/>
<text transform="translate(780.00,511.00) scale(0.8450,1)" font-size="14.98" text-anchor="end" fill="#1c1c1c" stroke="#1c1c1c" stroke-width="0.16">34500</text>
<line x1="779.80" y1="542.00" x2="785.60" y2="542.00" stroke="#333" stroke-width="1"/>
<text transform="translate(780.00,547.30) scale(0.8450,1)" font-size="14.98" text-anchor="end" fill="#1c1c1c" stroke="#1c1c1c" stroke-width="0.16">34000</text>
<line x1="779.80" y1="578.70" x2="785.60" y2="578.70" stroke="#333" stroke-width="1"/>
<text transform="translate(780.00,584.00) scale(0.8450,1)" font-size="14.98" text-anchor="end" fill="#1c1c1c" stroke="#1c1c1c" stroke-width="0.16">33500</text>
<line x1="779.80" y1="615.30" x2="785.60" y2="615.30" stroke="#333" stroke-width="1"/>
<text transform="translate(780.00,620.60) scale(0.8450,1)" font-size="14.98" text-anchor="end" fill="#1c1c1c" stroke="#1c1c1c" stroke-width="0.16">33000</text>
<line x1="779.80" y1="651.70" x2="785.60" y2="651.70" stroke="#333" stroke-width="1"/>
<text transform="translate(780.00,657.00) scale(0.8450,1)" font-size="14.98" text-anchor="end" fill="#1c1c1c" stroke="#1c1c1c" stroke-width="0.16">32500</text>
<line x1="991.40" y1="494.90" x2="996.90" y2="494.90" stroke="#333" stroke-width="1"/>
<text transform="translate(996.60,500.10) scale(0.8450,1)" font-size="14.98" text-anchor="start" fill="#1c1c1c" stroke="#1c1c1c" stroke-width="0.16">55000</text>
<line x1="991.40" y1="540.40" x2="996.90" y2="540.40" stroke="#333" stroke-width="1"/>
<text transform="translate(996.60,545.60) scale(0.8450,1)" font-size="14.98" text-anchor="start" fill="#1c1c1c" stroke="#1c1c1c" stroke-width="0.16">50000</text>
<line x1="991.40" y1="585.40" x2="996.90" y2="585.40" stroke="#333" stroke-width="1"/>
<text transform="translate(996.60,590.60) scale(0.8450,1)" font-size="14.98" text-anchor="start" fill="#1c1c1c" stroke="#1c1c1c" stroke-width="0.16">45000</text>
<line x1="991.40" y1="630.60" x2="996.90" y2="630.60" stroke="#333" stroke-width="1"/>
<text transform="translate(996.60,635.80) scale(0.8450,1)" font-size="14.98" text-anchor="start" fill="#1c1c1c" stroke="#1c1c1c" stroke-width="0.16">40000</text>
<text transform="translate(885.70,702.20) scale(0.9050,1)" font-size="14" text-anchor="middle" fill="#1c1c1c" stroke="#1c1c1c" stroke-width="0.16">Introgression proportion</text>
<text transform="translate(718.60,567.30) rotate(-90) scale(0.8450,1)" font-size="15.2475" text-anchor="middle" fill="#1c1c1c" stroke="#1c1c1c" stroke-width="0.16">No. of homozygous</text>
<text transform="translate(736.60,567.30) rotate(-90) scale(0.8450,1)" font-size="15.2475" text-anchor="middle" fill="#1c1c1c" stroke="#1c1c1c" stroke-width="0.16">deleterious alleles/accession</text>
<text transform="translate(3.00,730.00) scale(1.0000,1)" font-size="22.3" text-anchor="start" fill="#1c1c1c" stroke="#1c1c1c" stroke-width="0.16">g</text>
<line x1="48.30" y1="724.00" x2="48.30" y2="932.80" stroke="#222" stroke-width="1.2"/>
<line x1="47.70" y1="932.30" x2="345.00" y2="932.30" stroke="#222" stroke-width="1.2"/>
<line x1="42.60" y1="922.40" x2="48.30" y2="922.40" stroke="#222" stroke-width="1.1"/>
<text transform="translate(34.20,927.40) scale(0.8450,1)" font-size="14.98" text-anchor="middle" fill="#1c1c1c" stroke="#1c1c1c" stroke-width="0.16">0</text>
<line x1="42.60" y1="871.30" x2="48.30" y2="871.30" stroke="#222" stroke-width="1.1"/>
<text transform="translate(34.20,876.30) scale(0.8450,1)" font-size="14.98" text-anchor="middle" fill="#1c1c1c" stroke="#1c1c1c" stroke-width="0.16">20</text>
<line x1="42.60" y1="820.20" x2="48.30" y2="820.20" stroke="#222" stroke-width="1.1"/>
<text transform="translate(34.20,825.20) scale(0.8450,1)" font-size="14.98" text-anchor="middle" fill="#1c1c1c" stroke="#1c1c1c" stroke-width="0.16">40</text>
<line x1="42.60" y1="769.10" x2="48.30" y2="769.10" stroke="#222" stroke-width="1.1"/>
<text transform="translate(34.20,774.10) scale(0.8450,1)" font-size="14.98" text-anchor="middle" fill="#1c1c1c" stroke="#1c1c1c" stroke-width="0.16">60</text>
<line x1="60.70" y1="932.30" x2="60.70" y2="937.00" stroke="#222" stroke-width="1.1"/>
<text transform="translate(60.70,950.70) scale(0.8450,1)" font-size="14.98" text-anchor="middle" fill="#1c1c1c" stroke="#1c1c1c" stroke-width="0.16">0.70</text>
<line x1="122.10" y1="932.30" x2="122.10" y2="937.00" stroke="#222" stroke-width="1.1"/>
<text transform="translate(122.10,950.70) scale(0.8450,1)" font-size="14.98" text-anchor="middle" fill="#1c1c1c" stroke="#1c1c1c" stroke-width="0.16">0.75</text>
<line x1="183.50" y1="932.30" x2="183.50" y2="937.00" stroke="#222" stroke-width="1.1"/>
<text transform="translate(183.50,950.70) scale(0.8450,1)" font-size="14.98" text-anchor="middle" fill="#1c1c1c" stroke="#1c1c1c" stroke-width="0.16">0.80</text>
<line x1="244.90" y1="932.30" x2="244.90" y2="937.00" stroke="#222" stroke-width="1.1"/>
<text transform="translate(244.90,950.70) scale(0.8450,1)" font-size="14.98" text-anchor="middle" fill="#1c1c1c" stroke="#1c1c1c" stroke-width="0.16">0.85</text>
<line x1="306.30" y1="932.30" x2="306.30" y2="937.00" stroke="#222" stroke-width="1.1"/>
<text transform="translate(306.30,950.70) scale(0.8450,1)" font-size="14.98" text-anchor="middle" fill="#1c1c1c" stroke="#1c1c1c" stroke-width="0.16">0.90</text>
<text transform="translate(16.00,830.50) rotate(-90) scale(0.8450,1)" font-size="14.98" text-anchor="middle" fill="#1c1c1c" stroke="#1c1c1c" stroke-width="0.16">Density</text>
<text transform="translate(199.80,969.20) scale(0.8910,1)" font-size="14.3" text-anchor="middle" fill="#1c1c1c" stroke="#1c1c1c" stroke-width="0.16">Ratio of overlapping deleterious mutations</text>
<rect x="135.72" y="913.20" width="2.50" height="9.20" fill="#f0735c" stroke="#ffffff" stroke-width="0.25" stroke-opacity="0.4" fill-opacity="0.93"/>
<rect x="138.42" y="913.20" width="2.50" height="9.20" fill="#f0735c" stroke="#ffffff" stroke-width="0.25" stroke-opacity="0.4" fill-opacity="0.93"/>
<rect x="146.98" y="906.44" width="2.50" height="15.96" fill="#f0735c" stroke="#ffffff" stroke-width="0.25" stroke-opacity="0.4" fill-opacity="0.93"/>
<rect x="149.46" y="906.44" width="2.50" height="15.96" fill="#f0735c" stroke="#ffffff" stroke-width="0.25" stroke-opacity="0.4" fill-opacity="0.93"/>
<rect x="151.94" y="908.69" width="2.50" height="13.71" fill="#f0735c" stroke="#ffffff" stroke-width="0.25" stroke-opacity="0.4" fill-opacity="0.93"/>
<rect x="154.41" y="908.69" width="2.50" height="13.71" fill="#f0735c" stroke="#ffffff" stroke-width="0.25" stroke-opacity="0.4" fill-opacity="0.93"/>
<rect x="157.12" y="913.20" width="2.50" height="9.20" fill="#f0735c" stroke="#ffffff" stroke-width="0.25" stroke-opacity="0.4" fill-opacity="0.93"/>
<rect x="159.59" y="913.20" width="2.50" height="9.20" fill="#f0735c" stroke="#ffffff" stroke-width="0.25" stroke-opacity="0.4" fill-opacity="0.93"/>
<rect x="163.87" y="894.05" width="2.50" height="28.35" fill="#f0735c" stroke="#ffffff" stroke-width="0.25" stroke-opacity="0.4" fill-opacity="0.93"/>
<rect x="166.35" y="894.05" width="2.50" height="28.35" fill="#f0735c" stroke="#ffffff" stroke-width="0.25" stroke-opacity="0.4" fill-opacity="0.93"/>
<rect x="168.83" y="891.35" width="2.50" height="31.05" fill="#f0735c" stroke="#ffffff" stroke-width="0.25" stroke-opacity="0.4" fill-opacity="0.93"/>
<rect x="171.31" y="891.35" width="2.50" height="31.05" fill="#f0735c" stroke="#ffffff" stroke-width="0.25" stroke-opacity="0.4" fill-opacity="0.93"/>
<rect x="173.78" y="896.31" width="2.50" height="26.09" fill="#f0735c" stroke="#ffffff" stroke-width="0.25" stroke-opacity="0.4" fill-opacity="0.93"/>
<rect x="176.26" y="896.31" width="2.50" height="26.09" fill="#f0735c" stroke="#ffffff" stroke-width="0.25" stroke-opacity="0.4" fill-opacity="0.93"/>
<rect x="178.29" y="912.07" width="2.50" height="10.33" fill="#f0735c" stroke="#ffffff" stroke-width="0.25" stroke-opacity="0.4" fill-opacity="0.93"/>
<rect x="180.77" y="906.44" width="2.50" height="15.96" fill="#f0735c" stroke="#ffffff" stroke-width="0.25" stroke-opacity="0.4" fill-opacity="0.93"/>
<rect x="183.24" y="906.44" width="2.50" height="15.96" fill="#f0735c" stroke="#ffffff" stroke-width="0.25" stroke-opacity="0.4" fill-opacity="0.93"/>
<rect x="185.72" y="899.68" width="2.50" height="22.72" fill="#f0735c" stroke="#ffffff" stroke-width="0.25" stroke-opacity="0.4" fill-opacity="0.93"/>
<rect x="188.65" y="891.80" width="2.50" height="30.60" fill="#f0735c" stroke="#ffffff" stroke-width="0.25" stroke-opacity="0.4" fill-opacity="0.93"/>
<rect x="191.13" y="891.80" width="2.50" height="30.60" fill="#f0735c" stroke="#ffffff" stroke-width="0.25" stroke-opacity="0.4" fill-opacity="0.93"/>
<rect x="193.83" y="876.04" width="2.50" height="46.36" fill="#f0735c" stroke="#ffffff" stroke-width="0.25" stroke-opacity="0.4" fill-opacity="0.93"/>
<rect x="196.31" y="868.60" width="2.50" height="53.80" fill="#f0735c" stroke="#ffffff" stroke-width="0.25" stroke-opacity="0.4" fill-opacity="0.93"/>
<rect x="198.78" y="868.60" width="2.50" height="53.80" fill="#f0735c" stroke="#ffffff" stroke-width="0.25" stroke-opacity="0.4" fill-opacity="0.93"/>
<rect x="201.26" y="889.55" width="2.50" height="32.85" fill="#f0735c" stroke="#ffffff" stroke-width="0.25" stroke-opacity="0.4" fill-opacity="0.93"/>
<rect x="203.74" y="889.55" width="2.50" height="32.85" fill="#f0735c" stroke="#ffffff" stroke-width="0.25" stroke-opacity="0.4" fill-opacity="0.93"/>
<rect x="206.22" y="865.90" width="2.50" height="56.50" fill="#f0735c" stroke="#ffffff" stroke-width="0.25" stroke-opacity="0.4" fill-opacity="0.93"/>
<rect x="208.69" y="865.90" width="2.50" height="56.50" fill="#f0735c" stroke="#ffffff" stroke-width="0.25" stroke-opacity="0.4" fill-opacity="0.93"/>
<rect x="211.17" y="892.93" width="2.50" height="29.47" fill="#f0735c" stroke="#ffffff" stroke-width="0.25" stroke-opacity="0.4" fill-opacity="0.93"/>
<rect x="258.33" y="909.82" width="2.50" height="12.58" fill="#f0735c" stroke="#ffffff" stroke-width="0.25" stroke-opacity="0.4" fill-opacity="0.93"/>
<rect x="260.81" y="909.82" width="2.50" height="12.58" fill="#f0735c" stroke="#ffffff" stroke-width="0.25" stroke-opacity="0.4" fill-opacity="0.93"/>
<rect x="263.29" y="914.32" width="2.50" height="8.08" fill="#f0735c" stroke="#ffffff" stroke-width="0.25" stroke-opacity="0.4" fill-opacity="0.93"/>
<rect x="284.68" y="914.32" width="2.50" height="8.08" fill="#f0735c" stroke="#ffffff" stroke-width="0.25" stroke-opacity="0.4" fill-opacity="0.93"/>
<rect x="287.16" y="914.32" width="2.50" height="8.08" fill="#f0735c" stroke="#ffffff" stroke-width="0.25" stroke-opacity="0.4" fill-opacity="0.93"/>
<rect x="292.12" y="911.62" width="2.50" height="10.78" fill="#f0735c" stroke="#ffffff" stroke-width="0.25" stroke-opacity="0.4" fill-opacity="0.93"/>
<rect x="294.59" y="911.62" width="2.50" height="10.78" fill="#f0735c" stroke="#ffffff" stroke-width="0.25" stroke-opacity="0.4" fill-opacity="0.93"/>
<rect x="297.75" y="919.50" width="2.50" height="2.90" fill="#f0735c" stroke="#ffffff" stroke-width="0.25" stroke-opacity="0.4" fill-opacity="0.93"/>
<rect x="300.23" y="919.50" width="2.50" height="2.90" fill="#f0735c" stroke="#ffffff" stroke-width="0.25" stroke-opacity="0.4" fill-opacity="0.93"/>
<rect x="274.10" y="919.95" width="2.50" height="2.45" fill="#f0735c" stroke="#ffffff" stroke-width="0.25" stroke-opacity="0.4" fill-opacity="0.93"/>
<rect x="276.58" y="919.95" width="2.50" height="2.45" fill="#f0735c" stroke="#ffffff" stroke-width="0.25" stroke-opacity="0.4" fill-opacity="0.93"/>
<rect x="279.05" y="919.95" width="2.50" height="2.45" fill="#f0735c" stroke="#ffffff" stroke-width="0.25" stroke-opacity="0.4" fill-opacity="0.93"/>
<rect x="104.40" y="916.00" width="2.50" height="6.40" fill="#b27dc8" stroke="#ffffff" stroke-width="0.25" stroke-opacity="0.4" fill-opacity="0.93"/>
<rect x="106.90" y="891.00" width="2.50" height="31.40" fill="#b27dc8" stroke="#ffffff" stroke-width="0.25" stroke-opacity="0.4" fill-opacity="0.93"/>
<rect x="109.40" y="891.00" width="2.50" height="31.40" fill="#b27dc8" stroke="#ffffff" stroke-width="0.25" stroke-opacity="0.4" fill-opacity="0.93"/>
<rect x="111.90" y="851.00" width="2.50" height="71.40" fill="#b27dc8" stroke="#ffffff" stroke-width="0.25" stroke-opacity="0.4" fill-opacity="0.93"/>
<rect x="114.10" y="828.00" width="2.50" height="94.40" fill="#b27dc8" stroke="#ffffff" stroke-width="0.25" stroke-opacity="0.4" fill-opacity="0.93"/>
<rect x="116.00" y="805.00" width="2.50" height="117.40" fill="#b27dc8" stroke="#ffffff" stroke-width="0.25" stroke-opacity="0.4" fill-opacity="0.93"/>
<rect x="118.10" y="749.00" width="2.50" height="173.40" fill="#b27dc8" stroke="#ffffff" stroke-width="0.25" stroke-opacity="0.4" fill-opacity="0.93"/>
<rect x="120.40" y="749.00" width="2.50" height="173.40" fill="#b27dc8" stroke="#ffffff" stroke-width="0.25" stroke-opacity="0.4" fill-opacity="0.93"/>
<rect x="122.60" y="817.00" width="2.50" height="105.40" fill="#b27dc8" stroke="#ffffff" stroke-width="0.25" stroke-opacity="0.4" fill-opacity="0.93"/>
<rect x="124.90" y="810.00" width="2.50" height="112.40" fill="#b27dc8" stroke="#ffffff" stroke-width="0.25" stroke-opacity="0.4" fill-opacity="0.93"/>
<rect x="127.00" y="812.00" width="2.50" height="110.40" fill="#b27dc8" stroke="#ffffff" stroke-width="0.25" stroke-opacity="0.4" fill-opacity="0.93"/>
<rect x="128.90" y="880.00" width="2.50" height="42.40" fill="#b27dc8" stroke="#ffffff" stroke-width="0.25" stroke-opacity="0.4" fill-opacity="0.93"/>
<rect x="131.20" y="880.00" width="2.50" height="42.40" fill="#b27dc8" stroke="#ffffff" stroke-width="0.25" stroke-opacity="0.4" fill-opacity="0.93"/>
<rect x="133.40" y="895.00" width="2.50" height="27.40" fill="#b27dc8" stroke="#ffffff" stroke-width="0.25" stroke-opacity="0.4" fill-opacity="0.93"/>
<rect x="135.80" y="897.00" width="2.50" height="25.40" fill="#b27dc8" stroke="#ffffff" stroke-width="0.25" stroke-opacity="0.4" fill-opacity="0.93"/>
<rect x="138.00" y="893.00" width="2.50" height="29.40" fill="#b27dc8" stroke="#ffffff" stroke-width="0.25" stroke-opacity="0.4" fill-opacity="0.93"/>
<rect x="140.30" y="893.00" width="2.50" height="29.40" fill="#b27dc8" stroke="#ffffff" stroke-width="0.25" stroke-opacity="0.4" fill-opacity="0.93"/>
<rect x="142.60" y="903.00" width="2.50" height="19.40" fill="#b27dc8" stroke="#ffffff" stroke-width="0.25" stroke-opacity="0.4" fill-opacity="0.93"/>
<rect x="145.00" y="909.00" width="2.50" height="13.40" fill="#b27dc8" stroke="#ffffff" stroke-width="0.25" stroke-opacity="0.4" fill-opacity="0.93"/>
<rect x="147.40" y="915.00" width="2.50" height="7.40" fill="#b27dc8" stroke="#ffffff" stroke-width="0.25" stroke-opacity="0.4" fill-opacity="0.93"/>
<rect x="155.80" y="917.00" width="2.50" height="5.40" fill="#b27dc8" stroke="#ffffff" stroke-width="0.25" stroke-opacity="0.4" fill-opacity="0.93"/>
<rect x="158.30" y="916.00" width="2.50" height="6.40" fill="#b27dc8" stroke="#ffffff" stroke-width="0.25" stroke-opacity="0.4" fill-opacity="0.93"/>
<rect x="160.80" y="916.00" width="2.50" height="6.40" fill="#b27dc8" stroke="#ffffff" stroke-width="0.25" stroke-opacity="0.4" fill-opacity="0.93"/>
<rect x="163.30" y="917.00" width="2.50" height="5.40" fill="#b27dc8" stroke="#ffffff" stroke-width="0.25" stroke-opacity="0.4" fill-opacity="0.93"/>
<rect x="165.80" y="917.00" width="2.50" height="5.40" fill="#b27dc8" stroke="#ffffff" stroke-width="0.25" stroke-opacity="0.4" fill-opacity="0.93"/>
<rect x="204.17" y="917.45" width="2.50" height="4.95" fill="#52b3b0" stroke="#ffffff" stroke-width="0.25" stroke-opacity="0.4" fill-opacity="0.93"/>
<rect x="206.57" y="915.46" width="2.50" height="6.94" fill="#52b3b0" stroke="#ffffff" stroke-width="0.25" stroke-opacity="0.4" fill-opacity="0.93"/>
<rect x="208.96" y="910.47" width="2.50" height="11.93" fill="#52b3b0" stroke="#ffffff" stroke-width="0.25" stroke-opacity="0.4" fill-opacity="0.93"/>
<rect x="211.35" y="892.53" width="2.50" height="29.87" fill="#52b3b0" stroke="#ffffff" stroke-width="0.25" stroke-opacity="0.4" fill-opacity="0.93"/>
<rect x="213.74" y="872.59" width="2.50" height="49.81" fill="#52b3b0" stroke="#ffffff" stroke-width="0.25" stroke-opacity="0.4" fill-opacity="0.93"/>
<rect x="216.14" y="852.65" width="2.50" height="69.75" fill="#52b3b0" stroke="#ffffff" stroke-width="0.25" stroke-opacity="0.4" fill-opacity="0.93"/>
<rect x="218.53" y="832.71" width="2.50" height="89.69" fill="#52b3b0" stroke="#ffffff" stroke-width="0.25" stroke-opacity="0.4" fill-opacity="0.93"/>
<rect x="220.92" y="820.74" width="2.50" height="101.66" fill="#52b3b0" stroke="#ffffff" stroke-width="0.25" stroke-opacity="0.4" fill-opacity="0.93"/>
<rect x="223.32" y="756.93" width="2.50" height="165.47" fill="#52b3b0" stroke="#ffffff" stroke-width="0.25" stroke-opacity="0.4" fill-opacity="0.93"/>
<rect x="225.71" y="756.93" width="2.50" height="165.47" fill="#52b3b0" stroke="#ffffff" stroke-width="0.25" stroke-opacity="0.4" fill-opacity="0.93"/>
<rect x="228.10" y="781.86" width="2.50" height="140.54" fill="#52b3b0" stroke="#ffffff" stroke-width="0.25" stroke-opacity="0.4" fill-opacity="0.93"/>
<rect x="230.49" y="838.69" width="2.50" height="83.71" fill="#52b3b0" stroke="#ffffff" stroke-width="0.25" stroke-opacity="0.4" fill-opacity="0.93"/>
<rect x="232.89" y="858.63" width="2.50" height="63.77" fill="#52b3b0" stroke="#ffffff" stroke-width="0.25" stroke-opacity="0.4" fill-opacity="0.93"/>
<rect x="235.28" y="894.52" width="2.50" height="27.88" fill="#52b3b0" stroke="#ffffff" stroke-width="0.25" stroke-opacity="0.4" fill-opacity="0.93"/>
<rect x="237.67" y="895.52" width="2.50" height="26.88" fill="#52b3b0" stroke="#ffffff" stroke-width="0.25" stroke-opacity="0.4" fill-opacity="0.93"/>
<rect x="240.06" y="908.48" width="2.50" height="13.92" fill="#52b3b0" stroke="#ffffff" stroke-width="0.25" stroke-opacity="0.4" fill-opacity="0.93"/>
<rect x="242.46" y="914.46" width="2.50" height="7.94" fill="#52b3b0" stroke="#ffffff" stroke-width="0.25" stroke-opacity="0.4" fill-opacity="0.93"/>
<rect x="243.92" y="918.83" width="2.50" height="3.57" fill="#52b3b0" stroke="#ffffff" stroke-width="0.25" stroke-opacity="0.4" fill-opacity="0.93"/>
<rect x="246.40" y="917.70" width="2.50" height="4.70" fill="#52b3b0" stroke="#ffffff" stroke-width="0.25" stroke-opacity="0.4" fill-opacity="0.93"/>
<rect x="248.87" y="917.70" width="2.50" height="4.70" fill="#52b3b0" stroke="#ffffff" stroke-width="0.25" stroke-opacity="0.4" fill-opacity="0.93"/>
<rect x="251.35" y="917.70" width="2.50" height="4.70" fill="#52b3b0" stroke="#ffffff" stroke-width="0.25" stroke-opacity="0.4" fill-opacity="0.93"/>
<rect x="253.83" y="918.15" width="2.50" height="4.25" fill="#52b3b0" stroke="#ffffff" stroke-width="0.25" stroke-opacity="0.4" fill-opacity="0.93"/>
<rect x="256.31" y="918.83" width="2.50" height="3.57" fill="#52b3b0" stroke="#ffffff" stroke-width="0.25" stroke-opacity="0.4" fill-opacity="0.93"/>
<rect x="263.96" y="912.07" width="2.50" height="10.33" fill="#52b3b0" stroke="#ffffff" stroke-width="0.25" stroke-opacity="0.4" fill-opacity="0.93"/>
<rect x="266.44" y="912.07" width="2.50" height="10.33" fill="#52b3b0" stroke="#ffffff" stroke-width="0.25" stroke-opacity="0.4" fill-opacity="0.93"/>
<rect x="310.14" y="918.83" width="2.50" height="3.57" fill="#52b3b0" stroke="#ffffff" stroke-width="0.25" stroke-opacity="0.4" fill-opacity="0.93"/>
<rect x="312.61" y="916.58" width="2.50" height="5.82" fill="#52b3b0" stroke="#ffffff" stroke-width="0.25" stroke-opacity="0.4" fill-opacity="0.93"/>
<rect x="315.09" y="914.32" width="2.50" height="8.08" fill="#52b3b0" stroke="#ffffff" stroke-width="0.25" stroke-opacity="0.4" fill-opacity="0.93"/>
<rect x="317.57" y="917.70" width="2.50" height="4.70" fill="#52b3b0" stroke="#ffffff" stroke-width="0.25" stroke-opacity="0.4" fill-opacity="0.93"/>
<path d="M60.70 922.40 C67.25 922.40 93.06 922.50 100.00 922.40 C106.94 922.30 101.43 923.94 102.34 921.81 C103.26 919.68 104.44 914.82 105.49 909.64 C106.54 904.47 107.59 899.85 108.64 890.76 C109.69 881.67 110.74 869.43 111.79 855.09 C112.83 840.75 114.06 821.17 114.93 804.73 C115.81 788.30 116.33 768.43 117.03 756.47 C117.73 744.51 118.43 734.02 119.13 732.97 C119.83 731.92 120.53 742.76 121.23 750.18 C121.93 757.59 122.45 770.11 123.33 777.45 C124.20 784.80 125.67 788.99 126.47 794.24 C127.28 799.49 127.63 799.49 128.15 808.93 C128.68 818.37 129.03 839.00 129.62 850.89 C130.21 862.78 130.84 872.92 131.72 880.27 C132.59 887.61 133.99 892.16 134.87 894.95 C135.74 897.75 136.16 897.51 136.96 897.05 C137.77 896.60 138.82 892.40 139.69 892.23 C140.57 892.05 141.27 893.45 142.21 896.00 C143.15 898.56 144.31 904.22 145.36 907.54 C146.41 910.87 147.45 913.66 148.50 915.94 C149.55 918.21 149.74 920.10 151.65 921.18 C153.57 922.26 130.03 922.20 160.00 922.40 C189.97 922.60 302.92 922.40 331.50 922.40" fill="none" stroke="#b070c8" stroke-width="1.7" stroke-linejoin="round"/>
<path d="M100.00 922.40 C100.32 922.41 97.67 923.03 101.94 922.43 C106.20 921.84 117.89 921.12 125.59 918.83 C133.28 916.54 141.35 911.81 148.11 908.69 C154.86 905.58 160.87 902.01 166.13 900.14 C171.38 898.26 175.14 900.14 179.64 897.43 C184.14 894.73 189.40 887.22 193.15 883.92 C196.91 880.62 199.16 877.80 202.16 877.61 C205.17 877.42 209.69 881.37 211.17 882.79 C212.65 884.22 209.56 884.11 211.04 886.17 C212.52 888.24 216.67 892.55 220.05 895.18 C223.42 897.81 227.55 899.31 231.31 901.94 C235.06 904.56 239.19 908.51 242.57 910.95 C245.95 913.39 248.57 915.26 251.58 916.58 C254.58 917.89 257.58 918.19 260.59 918.83 C263.59 919.47 266.22 920.22 269.59 920.41 C272.97 920.59 277.10 920.22 280.86 919.95 C284.61 919.69 288.74 918.75 292.12 918.83 C295.50 918.90 297.37 919.84 301.13 920.41 C304.88 920.97 309.58 921.87 314.64 922.21 C319.70 922.54 328.69 922.37 331.50 922.40" fill="none" stroke="#f0735c" stroke-width="1.6" stroke-linejoin="round"/>
<path d="M170.00 922.40 C174.17 922.37 189.50 922.46 195.00 922.20 C200.50 921.94 200.98 922.13 202.98 920.84 C204.97 919.55 205.80 918.68 206.96 914.46 C208.13 910.24 209.02 902.83 209.96 895.52 C210.89 888.21 211.72 879.40 212.55 870.59 C213.38 861.79 214.14 851.98 214.94 842.68 C215.74 833.37 216.50 824.40 217.33 814.76 C218.16 805.12 219.06 794.49 219.93 784.85 C220.79 775.21 221.69 764.08 222.52 756.93 C223.35 749.79 224.15 742.31 224.91 741.98 C225.67 741.65 226.41 747.79 227.10 754.94 C227.80 762.09 228.43 774.22 229.10 784.85 C229.76 795.49 230.43 808.45 231.09 818.75 C231.76 829.05 232.42 838.02 233.09 846.67 C233.75 855.31 234.35 862.95 235.08 870.59 C235.81 878.24 236.64 886.21 237.47 892.53 C238.30 898.84 239.13 904.33 240.06 908.48 C241.00 912.63 241.86 915.53 243.06 917.45 C244.25 919.38 245.07 919.33 247.24 920.04 C249.41 920.76 253.11 921.96 256.08 921.76 C259.06 921.55 262.84 918.87 265.09 918.83 C267.34 918.79 265.84 920.93 269.59 921.53 C273.35 922.13 281.23 922.39 287.61 922.43 C293.99 922.47 303.19 922.55 307.88 921.76 C312.58 920.97 313.51 917.67 315.77 917.70 C318.02 917.74 318.77 921.20 321.40 921.98 C324.02 922.76 329.82 922.33 331.50 922.40" fill="none" stroke="#4cb0ae" stroke-width="1.6" stroke-linejoin="round"/>
<line x1="60.70" y1="922.40" x2="331.50" y2="922.40" stroke="#b070c8" stroke-width="1.6"/>
<rect x="234.80" y="743.20" width="4.40" height="4.40" fill="#4cb0ae" stroke="none" stroke-width="0"/>
<text transform="translate(242.10,749.30) scale(0.8450,1)" font-size="12.84" text-anchor="start" fill="#1c1c1c" stroke="#1c1c1c" stroke-width="0.16">Pummelo × Pummelo</text>
<rect x="234.80" y="757.50" width="4.40" height="4.40" fill="#c060d8" stroke="none" stroke-width="0"/>
<text transform="translate(242.10,763.60) scale(0.8450,1)" font-size="12.84" text-anchor="start" fill="#1c1c1c" stroke="#1c1c1c" stroke-width="0.16">Pummelo × Mandarin</text>
<rect x="234.80" y="771.80" width="4.40" height="4.40" fill="#e8622c" stroke="none" stroke-width="0"/>
<text transform="translate(242.10,777.90) scale(0.8450,1)" font-size="12.84" text-anchor="start" fill="#1c1c1c" stroke="#1c1c1c" stroke-width="0.16">Mandarin × Mandarin</text>
<text transform="translate(357.50,730.60) scale(1.0000,1)" font-size="22.3" text-anchor="start" fill="#1c1c1c" stroke="#1c1c1c" stroke-width="0.16">h</text>
<rect x="424.00" y="744.10" width="62.60" height="121.90" fill="#74cbf0" stroke="none" stroke-width="0"/>
<rect x="369.90" y="865.80" width="54.10" height="74.10" fill="#74cbf0" stroke="none" stroke-width="0"/>
<rect x="486.50" y="865.80" width="53.90" height="33.20" fill="#74cbf0" stroke="none" stroke-width="0"/>
<rect x="449.30" y="898.90" width="47.40" height="41.00" fill="#74cbf0" stroke="none" stroke-width="0"/>
<rect x="529.10" y="898.90" width="47.70" height="41.00" fill="#74cbf0" stroke="none" stroke-width="0"/>
<text transform="translate(373.70,744.60) scale(0.8450,1)" font-size="12.84" text-anchor="start" fill="#1c1c1c" stroke="#1c1c1c" stroke-width="0.16">Model_h0</text>
<text transform="translate(434.70,756.30) scale(0.8450,1)" font-size="14.98" text-anchor="start" fill="#1c1c1c" stroke="#1c1c1c" stroke-width="0.16">Sexual</text>
<text transform="translate(378.60,879.60) scale(0.8450,1)" font-size="14.98" text-anchor="start" fill="#1c1c1c" stroke="#1c1c1c" stroke-width="0.16">Sexual</text>
<text transform="translate(453.30,914.70) scale(0.8450,1)" font-size="14.98" text-anchor="start" fill="#1c1c1c" stroke="#1c1c1c" stroke-width="0.16">Sexual</text>
<text transform="translate(490.00,878.70) scale(0.8450,1)" font-size="14.98" text-anchor="start" fill="#1c1c1c" stroke="#1c1c1c" stroke-width="0.16">Apomixis</text>
<text transform="translate(529.10,914.70) scale(0.8450,1)" font-size="14.98" text-anchor="start" fill="#1c1c1c" stroke="#1c1c1c" stroke-width="0.16">Apomixis</text>
<text transform="translate(448.00,799.20) scale(0.8450,1)" font-size="14.98" text-anchor="start" fill="#1c1c1c" stroke="#1c1c1c" stroke-width="0.16" font-style="italic">N</text>
<text transform="translate(456.60,801.60) scale(0.8450,1)" font-size="9.095" text-anchor="start" fill="#1c1c1c" stroke="#1c1c1c" stroke-width="0.16" font-style="italic">e</text>
<text transform="translate(491.00,799.20) scale(0.8450,1)" font-size="14.98" text-anchor="start" fill="#1c1c1c" stroke="#1c1c1c" stroke-width="0.16">(Ancient)</text>
<text transform="translate(444.70,892.20) scale(0.8450,1)" font-size="14.98" text-anchor="start" fill="#1c1c1c" stroke="#1c1c1c" stroke-width="0.16">M</text>
<line x1="424.00" y1="894.50" x2="483.00" y2="894.50" stroke="#111" stroke-width="1.3"/>
<polygon points="486.8,894.5 480.3,891.6 480.3,897.4" fill="#111"/>
<text transform="translate(507.90,913.80) scale(0.8450,1)" font-size="13.375" text-anchor="start" fill="#1c1c1c" stroke="#1c1c1c" stroke-width="0.16" font-style="italic">p</text>
<text transform="translate(513.40,913.80) scale(0.8450,1)" font-size="13.375" text-anchor="start" fill="#1c1c1c" stroke="#1c1c1c" stroke-width="0.16">I</text>
<line x1="540.50" y1="867.50" x2="587.80" y2="867.50" stroke="#d9a6dc" stroke-width="1" stroke-dasharray="5 2.6"/>
<line x1="540.50" y1="894.50" x2="587.80" y2="894.50" stroke="#d9a6dc" stroke-width="1" stroke-dasharray="5 2.6"/>
<line x1="576.80" y1="898.00" x2="587.80" y2="898.00" stroke="#d9a6dc" stroke-width="1" stroke-dasharray="5 2.6"/>
<text transform="translate(590.60,871.00) scale(0.8450,1)" font-size="14.98" text-anchor="start" fill="#1c1c1c" stroke="#1c1c1c" stroke-width="0.16">10,000</text>
<text transform="translate(590.60,893.70) scale(0.8450,1)" font-size="14.98" text-anchor="start" fill="#1c1c1c" stroke="#1c1c1c" stroke-width="0.16">8,100</text>
<text transform="translate(590.60,914.70) scale(0.8450,1)" font-size="14.98" text-anchor="start" fill="#1c1c1c" stroke="#1c1c1c" stroke-width="0.16">8,000</text>
<text transform="translate(387.20,954.90) scale(0.8450,1)" font-size="14.98" text-anchor="start" fill="#1c1c1c" stroke="#1c1c1c" stroke-width="0.16" font-style="italic">p</text>
<text transform="translate(393.80,954.90) scale(0.8450,1)" font-size="14.98" text-anchor="start" fill="#1c1c1c" stroke="#1c1c1c" stroke-width="0.16">O</text>
<text transform="translate(465.00,954.90) scale(0.8450,1)" font-size="14.98" text-anchor="start" fill="#1c1c1c" stroke="#1c1c1c" stroke-width="0.16" font-style="italic">p</text>
<text transform="translate(471.60,954.90) scale(0.8450,1)" font-size="14.98" text-anchor="start" fill="#1c1c1c" stroke="#1c1c1c" stroke-width="0.16">S</text>
<text transform="translate(544.70,954.90) scale(0.8450,1)" font-size="14.98" text-anchor="start" fill="#1c1c1c" stroke="#1c1c1c" stroke-width="0.16" font-style="italic">p</text>
<text transform="translate(551.30,954.90) scale(0.8450,1)" font-size="14.98" text-anchor="start" fill="#1c1c1c" stroke="#1c1c1c" stroke-width="0.16">A</text>
<text transform="translate(621.70,956.30) scale(0.8450,1)" font-size="14.98" text-anchor="start" fill="#1c1c1c" stroke="#1c1c1c" stroke-width="0.16">Time</text>
<rect x="632.00" y="748.00" width="4.30" height="195.50" fill="#a9a9a9" stroke="none" stroke-width="0"/>
<polygon points="634.2,736 626.6,749.4 641.8,749.4" fill="#a9a9a9"/>
<text transform="translate(666.30,730.60) scale(1.0000,1)" font-size="22.3" text-anchor="start" fill="#1c1c1c" stroke="#1c1c1c" stroke-width="0.16">i</text>
<line x1="703.00" y1="757.30" x2="703.00" y2="932.50" stroke="#222" stroke-width="1.2"/>
<line x1="702.40" y1="932.00" x2="1016.00" y2="932.00" stroke="#222" stroke-width="1.2"/>
<line x1="698.50" y1="764.20" x2="703.00" y2="764.20" stroke="#222" stroke-width="1.1"/>
<text transform="translate(696.20,767.30) scale(0.8450,1)" font-size="14.98" text-anchor="end" fill="#1c1c1c" stroke="#1c1c1c" stroke-width="0.16">1.1</text>
<line x1="698.50" y1="804.40" x2="703.00" y2="804.40" stroke="#222" stroke-width="1.1"/>
<text transform="translate(696.20,807.50) scale(0.8450,1)" font-size="14.98" text-anchor="end" fill="#1c1c1c" stroke="#1c1c1c" stroke-width="0.16">1.0</text>
<line x1="698.50" y1="844.60" x2="703.00" y2="844.60" stroke="#222" stroke-width="1.1"/>
<text transform="translate(696.20,847.70) scale(0.8450,1)" font-size="14.98" text-anchor="end" fill="#1c1c1c" stroke="#1c1c1c" stroke-width="0.16">0.9</text>
<line x1="698.50" y1="884.80" x2="703.00" y2="884.80" stroke="#222" stroke-width="1.1"/>
<text transform="translate(696.20,887.90) scale(0.8450,1)" font-size="14.98" text-anchor="end" fill="#1c1c1c" stroke="#1c1c1c" stroke-width="0.16">0.8</text>
<line x1="698.50" y1="925.00" x2="703.00" y2="925.00" stroke="#222" stroke-width="1.1"/>
<text transform="translate(696.20,928.10) scale(0.8450,1)" font-size="14.98" text-anchor="end" fill="#1c1c1c" stroke="#1c1c1c" stroke-width="0.16">0.7</text>
<line x1="706.00" y1="932.00" x2="706.00" y2="936.50" stroke="#222" stroke-width="1.1"/>
<text transform="translate(708.00,952.70) scale(0.8450,1)" font-size="14.98" text-anchor="middle" fill="#1c1c1c" stroke="#1c1c1c" stroke-width="0.16">12090</text>
<line x1="757.05" y1="932.00" x2="757.05" y2="936.50" stroke="#222" stroke-width="1.1"/>
<line x1="808.10" y1="932.00" x2="808.10" y2="936.50" stroke="#222" stroke-width="1.1"/>
<text transform="translate(808.10,952.70) scale(0.8450,1)" font-size="14.98" text-anchor="middle" fill="#1c1c1c" stroke="#1c1c1c" stroke-width="0.16">12100</text>
<line x1="859.15" y1="932.00" x2="859.15" y2="936.50" stroke="#222" stroke-width="1.1"/>
<line x1="910.20" y1="932.00" x2="910.20" y2="936.50" stroke="#222" stroke-width="1.1"/>
<text transform="translate(910.20,952.70) scale(0.8450,1)" font-size="14.98" text-anchor="middle" fill="#1c1c1c" stroke="#1c1c1c" stroke-width="0.16">12110</text>
<line x1="961.25" y1="932.00" x2="961.25" y2="936.50" stroke="#222" stroke-width="1.1"/>
<line x1="1012.30" y1="932.00" x2="1012.30" y2="936.50" stroke="#222" stroke-width="1.1"/>
<text transform="translate(1012.30,952.70) scale(0.8450,1)" font-size="14.98" text-anchor="middle" fill="#1c1c1c" stroke="#1c1c1c" stroke-width="0.16">12120</text>
<text transform="translate(669.70,838.30) rotate(-90) scale(0.8450,1)" font-size="14.98" text-anchor="middle" fill="#1c1c1c" stroke="#1c1c1c" stroke-width="0.16">Fitness</text>
<text transform="translate(859.00,968.70) scale(0.8450,1)" font-size="14.98" text-anchor="middle" fill="#1c1c1c" stroke="#1c1c1c" stroke-width="0.16">Generations</text>
<text transform="translate(924.80,758.60) scale(0.8450,1)" font-size="14.98" text-anchor="middle" fill="#1c1c1c" stroke="#1c1c1c" stroke-width="0.16">Reproductive type</text>
<text transform="translate(923.40,774.70) scale(0.8450,1)" font-size="14.98" text-anchor="middle" fill="#1c1c1c" stroke="#1c1c1c" stroke-width="0.16">transition</text>
<circle cx="716.21" cy="807.60" r="1.90" fill="#6a6a6a" stroke="none" stroke-width="0" fill-opacity="0.85"/>
<circle cx="716.21" cy="814.77" r="1.70" fill="#d070e2" stroke="none" stroke-width="0" fill-opacity="0.85"/>
<circle cx="716.21" cy="811.20" r="2.20" fill="#b030c8" stroke="none" stroke-width="0" fill-opacity="0.9"/>
<circle cx="726.42" cy="807.60" r="1.90" fill="#6a6a6a" stroke="none" stroke-width="0" fill-opacity="0.85"/>
<circle cx="726.42" cy="814.99" r="1.70" fill="#d070e2" stroke="none" stroke-width="0" fill-opacity="0.85"/>
<circle cx="726.42" cy="811.20" r="2.20" fill="#b030c8" stroke="none" stroke-width="0" fill-opacity="0.9"/>
<circle cx="736.63" cy="807.60" r="1.90" fill="#6a6a6a" stroke="none" stroke-width="0" fill-opacity="0.85"/>
<circle cx="736.63" cy="814.41" r="1.70" fill="#d070e2" stroke="none" stroke-width="0" fill-opacity="0.85"/>
<circle cx="736.63" cy="811.20" r="2.20" fill="#b030c8" stroke="none" stroke-width="0" fill-opacity="0.9"/>
<circle cx="746.84" cy="807.60" r="1.90" fill="#6a6a6a" stroke="none" stroke-width="0" fill-opacity="0.85"/>
<circle cx="746.84" cy="814.72" r="1.70" fill="#d070e2" stroke="none" stroke-width="0" fill-opacity="0.85"/>
<circle cx="746.84" cy="811.20" r="2.20" fill="#b030c8" stroke="none" stroke-width="0" fill-opacity="0.9"/>
<circle cx="757.05" cy="807.60" r="1.90" fill="#6a6a6a" stroke="none" stroke-width="0" fill-opacity="0.85"/>
<circle cx="757.05" cy="815.25" r="1.70" fill="#d070e2" stroke="none" stroke-width="0" fill-opacity="0.85"/>
<circle cx="757.05" cy="811.20" r="2.20" fill="#b030c8" stroke="none" stroke-width="0" fill-opacity="0.9"/>
<circle cx="767.26" cy="807.60" r="1.90" fill="#6a6a6a" stroke="none" stroke-width="0" fill-opacity="0.85"/>
<circle cx="767.26" cy="815.25" r="1.70" fill="#d070e2" stroke="none" stroke-width="0" fill-opacity="0.85"/>
<circle cx="767.26" cy="811.20" r="2.20" fill="#b030c8" stroke="none" stroke-width="0" fill-opacity="0.9"/>
<circle cx="777.47" cy="807.60" r="1.90" fill="#6a6a6a" stroke="none" stroke-width="0" fill-opacity="0.85"/>
<circle cx="777.47" cy="814.18" r="1.70" fill="#d070e2" stroke="none" stroke-width="0" fill-opacity="0.85"/>
<circle cx="777.47" cy="811.20" r="2.20" fill="#b030c8" stroke="none" stroke-width="0" fill-opacity="0.9"/>
<circle cx="787.68" cy="807.60" r="1.90" fill="#6a6a6a" stroke="none" stroke-width="0" fill-opacity="0.85"/>
<circle cx="787.68" cy="814.29" r="1.70" fill="#d070e2" stroke="none" stroke-width="0" fill-opacity="0.85"/>
<circle cx="787.68" cy="811.20" r="2.20" fill="#b030c8" stroke="none" stroke-width="0" fill-opacity="0.9"/>
<circle cx="797.89" cy="807.60" r="1.90" fill="#6a6a6a" stroke="none" stroke-width="0" fill-opacity="0.85"/>
<circle cx="797.89" cy="814.07" r="1.70" fill="#d070e2" stroke="none" stroke-width="0" fill-opacity="0.85"/>
<circle cx="797.89" cy="811.20" r="2.20" fill="#b030c8" stroke="none" stroke-width="0" fill-opacity="0.9"/>
<circle cx="808.10" cy="807.60" r="1.90" fill="#6a6a6a" stroke="none" stroke-width="0" fill-opacity="0.85"/>
<circle cx="808.10" cy="814.62" r="1.70" fill="#d070e2" stroke="none" stroke-width="0" fill-opacity="0.85"/>
<circle cx="808.10" cy="811.20" r="2.20" fill="#b030c8" stroke="none" stroke-width="0" fill-opacity="0.9"/>
<circle cx="818.31" cy="807.60" r="1.90" fill="#6a6a6a" stroke="none" stroke-width="0" fill-opacity="0.85"/>
<circle cx="818.31" cy="814.04" r="1.70" fill="#d070e2" stroke="none" stroke-width="0" fill-opacity="0.85"/>
<circle cx="818.31" cy="811.20" r="2.20" fill="#b030c8" stroke="none" stroke-width="0" fill-opacity="0.9"/>
<circle cx="828.52" cy="807.60" r="1.90" fill="#6a6a6a" stroke="none" stroke-width="0" fill-opacity="0.85"/>
<circle cx="828.52" cy="814.64" r="1.70" fill="#d070e2" stroke="none" stroke-width="0" fill-opacity="0.85"/>
<circle cx="828.52" cy="811.20" r="2.20" fill="#b030c8" stroke="none" stroke-width="0" fill-opacity="0.9"/>
<circle cx="838.73" cy="807.60" r="1.90" fill="#6a6a6a" stroke="none" stroke-width="0" fill-opacity="0.85"/>
<circle cx="838.73" cy="814.91" r="1.70" fill="#d070e2" stroke="none" stroke-width="0" fill-opacity="0.85"/>
<circle cx="838.73" cy="811.20" r="2.20" fill="#b030c8" stroke="none" stroke-width="0" fill-opacity="0.9"/>
<circle cx="848.94" cy="807.60" r="1.90" fill="#6a6a6a" stroke="none" stroke-width="0" fill-opacity="0.85"/>
<circle cx="848.94" cy="814.39" r="1.70" fill="#d070e2" stroke="none" stroke-width="0" fill-opacity="0.85"/>
<circle cx="848.94" cy="811.20" r="2.20" fill="#b030c8" stroke="none" stroke-width="0" fill-opacity="0.9"/>
<circle cx="859.15" cy="807.60" r="1.90" fill="#6a6a6a" stroke="none" stroke-width="0" fill-opacity="0.85"/>
<circle cx="859.15" cy="814.95" r="1.70" fill="#d070e2" stroke="none" stroke-width="0" fill-opacity="0.85"/>
<circle cx="859.15" cy="811.20" r="2.20" fill="#b030c8" stroke="none" stroke-width="0" fill-opacity="0.9"/>
<circle cx="869.36" cy="807.60" r="1.90" fill="#6a6a6a" stroke="none" stroke-width="0" fill-opacity="0.85"/>
<circle cx="869.36" cy="814.83" r="1.70" fill="#d070e2" stroke="none" stroke-width="0" fill-opacity="0.85"/>
<circle cx="869.36" cy="811.20" r="2.20" fill="#b030c8" stroke="none" stroke-width="0" fill-opacity="0.9"/>
<circle cx="879.57" cy="807.60" r="1.90" fill="#6a6a6a" stroke="none" stroke-width="0" fill-opacity="0.85"/>
<circle cx="879.57" cy="814.03" r="1.70" fill="#d070e2" stroke="none" stroke-width="0" fill-opacity="0.85"/>
<circle cx="879.57" cy="811.20" r="2.20" fill="#b030c8" stroke="none" stroke-width="0" fill-opacity="0.9"/>
<circle cx="889.78" cy="807.60" r="1.90" fill="#6a6a6a" stroke="none" stroke-width="0" fill-opacity="0.85"/>
<circle cx="889.78" cy="814.78" r="1.70" fill="#d070e2" stroke="none" stroke-width="0" fill-opacity="0.85"/>
<circle cx="889.78" cy="811.20" r="2.20" fill="#b030c8" stroke="none" stroke-width="0" fill-opacity="0.9"/>
<circle cx="899.99" cy="807.60" r="1.90" fill="#6a6a6a" stroke="none" stroke-width="0" fill-opacity="0.85"/>
<circle cx="899.99" cy="814.36" r="1.70" fill="#d070e2" stroke="none" stroke-width="0" fill-opacity="0.85"/>
<circle cx="899.99" cy="811.20" r="2.20" fill="#b030c8" stroke="none" stroke-width="0" fill-opacity="0.9"/>
<circle cx="910.20" cy="807.60" r="1.90" fill="#6a6a6a" stroke="none" stroke-width="0" fill-opacity="0.85"/>
<circle cx="910.20" cy="814.58" r="1.70" fill="#d070e2" stroke="none" stroke-width="0" fill-opacity="0.85"/>
<circle cx="910.20" cy="811.20" r="2.20" fill="#b030c8" stroke="none" stroke-width="0" fill-opacity="0.9"/>
<circle cx="920.41" cy="807.60" r="1.70" fill="#e8305a" stroke="none" stroke-width="0" fill-opacity="0.7"/>
<circle cx="920.41" cy="807.20" r="1.80" fill="#6a6a6a" stroke="none" stroke-width="0" fill-opacity="0.8"/>
<circle cx="920.41" cy="814.43" r="1.70" fill="#f0506e" stroke="none" stroke-width="0" fill-opacity="0.85"/>
<circle cx="930.62" cy="807.60" r="1.70" fill="#e8305a" stroke="none" stroke-width="0" fill-opacity="0.7"/>
<circle cx="930.62" cy="807.20" r="1.80" fill="#6a6a6a" stroke="none" stroke-width="0" fill-opacity="0.8"/>
<circle cx="930.62" cy="814.75" r="1.70" fill="#f0506e" stroke="none" stroke-width="0" fill-opacity="0.85"/>
<circle cx="940.83" cy="807.60" r="1.70" fill="#e8305a" stroke="none" stroke-width="0" fill-opacity="0.7"/>
<circle cx="940.83" cy="807.20" r="1.80" fill="#6a6a6a" stroke="none" stroke-width="0" fill-opacity="0.8"/>
<circle cx="940.83" cy="814.55" r="1.70" fill="#f0506e" stroke="none" stroke-width="0" fill-opacity="0.85"/>
<circle cx="951.04" cy="807.60" r="1.70" fill="#e8305a" stroke="none" stroke-width="0" fill-opacity="0.7"/>
<circle cx="951.04" cy="807.20" r="1.80" fill="#6a6a6a" stroke="none" stroke-width="0" fill-opacity="0.8"/>
<circle cx="951.04" cy="814.33" r="1.70" fill="#f0506e" stroke="none" stroke-width="0" fill-opacity="0.85"/>
<circle cx="961.25" cy="807.60" r="1.70" fill="#e8305a" stroke="none" stroke-width="0" fill-opacity="0.7"/>
<circle cx="961.25" cy="807.20" r="1.80" fill="#6a6a6a" stroke="none" stroke-width="0" fill-opacity="0.8"/>
<circle cx="961.25" cy="814.64" r="1.70" fill="#f0506e" stroke="none" stroke-width="0" fill-opacity="0.85"/>
<circle cx="971.46" cy="807.60" r="1.70" fill="#e8305a" stroke="none" stroke-width="0" fill-opacity="0.7"/>
<circle cx="971.46" cy="807.20" r="1.80" fill="#6a6a6a" stroke="none" stroke-width="0" fill-opacity="0.8"/>
<circle cx="971.46" cy="814.82" r="1.70" fill="#f0506e" stroke="none" stroke-width="0" fill-opacity="0.85"/>
<circle cx="981.67" cy="807.60" r="1.70" fill="#e8305a" stroke="none" stroke-width="0" fill-opacity="0.7"/>
<circle cx="981.67" cy="807.20" r="1.80" fill="#6a6a6a" stroke="none" stroke-width="0" fill-opacity="0.8"/>
<circle cx="981.67" cy="814.45" r="1.70" fill="#f0506e" stroke="none" stroke-width="0" fill-opacity="0.85"/>
<circle cx="991.88" cy="807.60" r="1.70" fill="#e8305a" stroke="none" stroke-width="0" fill-opacity="0.7"/>
<circle cx="991.88" cy="807.20" r="1.80" fill="#6a6a6a" stroke="none" stroke-width="0" fill-opacity="0.8"/>
<circle cx="991.88" cy="814.38" r="1.70" fill="#f0506e" stroke="none" stroke-width="0" fill-opacity="0.85"/>
<circle cx="1002.09" cy="807.60" r="1.70" fill="#e8305a" stroke="none" stroke-width="0" fill-opacity="0.7"/>
<circle cx="1002.09" cy="807.20" r="1.80" fill="#6a6a6a" stroke="none" stroke-width="0" fill-opacity="0.8"/>
<circle cx="1002.09" cy="814.51" r="1.70" fill="#f0506e" stroke="none" stroke-width="0" fill-opacity="0.85"/>
<line x1="716.21" y1="809.00" x2="920.41" y2="809.00" stroke="#555" stroke-width="2"/>
<line x1="920.41" y1="808.40" x2="1002.09" y2="808.40" stroke="#5a5a5a" stroke-width="1.6"/>
<line x1="716.21" y1="811.20" x2="910.20" y2="811.20" stroke="#a818c0" stroke-width="2.2"/>
<line x1="920.41" y1="811.60" x2="1002.09" y2="811.40" stroke="#e8305a" stroke-width="1.6"/>
<circle cx="920.41" cy="810.80" r="2.10" fill="#3a30e0" stroke="none" stroke-width="0" fill-opacity="0.9"/>
<circle cx="930.62" cy="810.80" r="2.10" fill="#3a30e0" stroke="none" stroke-width="0" fill-opacity="0.9"/>
<circle cx="940.83" cy="810.80" r="2.10" fill="#3a30e0" stroke="none" stroke-width="0" fill-opacity="0.9"/>
<circle cx="951.04" cy="810.80" r="2.10" fill="#3a30e0" stroke="none" stroke-width="0" fill-opacity="0.9"/>
<circle cx="961.25" cy="810.80" r="2.10" fill="#3a30e0" stroke="none" stroke-width="0" fill-opacity="0.9"/>
<circle cx="971.46" cy="810.80" r="2.10" fill="#3a30e0" stroke="none" stroke-width="0" fill-opacity="0.9"/>
<circle cx="981.67" cy="810.80" r="2.10" fill="#3a30e0" stroke="none" stroke-width="0" fill-opacity="0.9"/>
<circle cx="991.88" cy="810.80" r="2.10" fill="#3a30e0" stroke="none" stroke-width="0" fill-opacity="0.9"/>
<circle cx="1002.09" cy="810.80" r="2.10" fill="#3a30e0" stroke="none" stroke-width="0" fill-opacity="0.9"/>
<line x1="920.41" y1="810.80" x2="1002.09" y2="810.60" stroke="#2a2ae0" stroke-width="2.5"/>
<rect x="919.20" y="808.60" width="1.80" height="3.20" fill="#ddd" stroke="#8070a0" stroke-width="0.5"/>
<path d="M920.70 815.00 L922.40 824.60 L924.70 833.00 L927.60 841.60 L931.00 849.00 L934.50 854.30 L938.50 858.60 L942.50 860.40 L946.00 858.50 L950.60 855.10 L959.80 848.00 L971.30 840.60 L980.50 836.50 L989.70 833.70 L1001.70 830.90 L1001.70 846.90 L989.70 846.90 L980.50 847.70 L971.30 850.40 L959.80 856.80 L950.60 863.50 L946.00 867.10 L942.50 869.00 L938.50 867.00 L934.50 862.10 L931.00 855.80 L927.60 847.20 L924.70 837.40 L922.40 827.40 L920.70 816.20 Z" fill="#30c8d4" fill-opacity="0.4"/>
<circle cx="930.11" cy="857.59" r="1.80" fill="#40d0dc" stroke="none" stroke-width="0" fill-opacity="0.7"/>
<circle cx="930.11" cy="862.18" r="1.80" fill="#40d0dc" stroke="none" stroke-width="0" fill-opacity="0.7"/>
<circle cx="930.11" cy="864.48" r="1.80" fill="#40d0dc" stroke="none" stroke-width="0" fill-opacity="0.7"/>
<circle cx="930.11" cy="866.78" r="1.80" fill="#40d0dc" stroke="none" stroke-width="0" fill-opacity="0.7"/>
<circle cx="940.23" cy="856.44" r="1.80" fill="#40d0dc" stroke="none" stroke-width="0" fill-opacity="0.7"/>
<circle cx="940.80" cy="867.93" r="1.80" fill="#40d0dc" stroke="none" stroke-width="0" fill-opacity="0.7"/>
<circle cx="950.57" cy="852.99" r="1.80" fill="#40d0dc" stroke="none" stroke-width="0" fill-opacity="0.7"/>
<circle cx="950.57" cy="874.25" r="1.80" fill="#40d0dc" stroke="none" stroke-width="0" fill-opacity="0.7"/>
<circle cx="960.69" cy="843.56" r="1.80" fill="#40d0dc" stroke="none" stroke-width="0" fill-opacity="0.7"/>
<circle cx="960.69" cy="848.39" r="1.80" fill="#40d0dc" stroke="none" stroke-width="0" fill-opacity="0.7"/>
<circle cx="960.92" cy="855.29" r="1.80" fill="#40d0dc" stroke="none" stroke-width="0" fill-opacity="0.7"/>
<circle cx="960.92" cy="863.33" r="1.80" fill="#40d0dc" stroke="none" stroke-width="0" fill-opacity="0.7"/>
<circle cx="971.03" cy="839.77" r="1.80" fill="#40d0dc" stroke="none" stroke-width="0" fill-opacity="0.7"/>
<circle cx="971.03" cy="858.51" r="1.80" fill="#40d0dc" stroke="none" stroke-width="0" fill-opacity="0.7"/>
<circle cx="981.15" cy="836.90" r="1.80" fill="#40d0dc" stroke="none" stroke-width="0" fill-opacity="0.7"/>
<circle cx="981.15" cy="839.20" r="1.80" fill="#40d0dc" stroke="none" stroke-width="0" fill-opacity="0.7"/>
<circle cx="981.15" cy="856.67" r="1.80" fill="#40d0dc" stroke="none" stroke-width="0" fill-opacity="0.7"/>
<circle cx="991.38" cy="834.94" r="1.80" fill="#40d0dc" stroke="none" stroke-width="0" fill-opacity="0.7"/>
<circle cx="991.38" cy="837.47" r="1.80" fill="#40d0dc" stroke="none" stroke-width="0" fill-opacity="0.7"/>
<circle cx="991.38" cy="852.64" r="1.80" fill="#40d0dc" stroke="none" stroke-width="0" fill-opacity="0.7"/>
<circle cx="1001.72" cy="832.30" r="1.80" fill="#40d0dc" stroke="none" stroke-width="0" fill-opacity="0.7"/>
<circle cx="1001.72" cy="834.60" r="1.80" fill="#40d0dc" stroke="none" stroke-width="0" fill-opacity="0.7"/>
<circle cx="1001.72" cy="852.18" r="1.80" fill="#40d0dc" stroke="none" stroke-width="0" fill-opacity="0.7"/>
<path d="M920.70 815.60 C920.98 817.33 921.73 822.73 922.40 826.00 C923.07 829.27 923.83 832.13 924.70 835.20 C925.57 838.27 926.55 841.53 927.60 844.40 C928.65 847.27 929.85 850.10 931.00 852.40 C932.15 854.70 933.25 856.47 934.50 858.20 C935.75 859.93 937.17 861.72 938.50 862.80 C939.83 863.88 941.25 864.70 942.50 864.70 C943.75 864.70 944.65 863.70 946.00 862.80 C947.35 861.90 948.30 861.03 950.60 859.30 C952.90 857.57 956.35 854.70 959.80 852.40 C963.25 850.10 967.85 847.22 971.30 845.50 C974.75 843.78 977.43 842.97 980.50 842.10 C983.57 841.23 986.17 840.83 989.70 840.30 C993.23 839.77 999.70 839.13 1001.70 838.90" fill="none" stroke="#08c6d6" stroke-width="2.3" stroke-linejoin="round"/>
<line x1="920.10" y1="783.00" x2="920.10" y2="932.00" stroke="#a89098" stroke-width="1.9" stroke-dasharray="5.2 3.2"/>
<line x1="722.50" y1="856.60" x2="734.70" y2="856.60" stroke="#222" stroke-width="2.1"/>
<text transform="translate(739.00,859.10) scale(0.8450,1)" font-size="12.84" text-anchor="start" fill="#1c1c1c" stroke="#1c1c1c" stroke-width="0.16" font-style="italic">p</text>
<text transform="translate(744.60,859.10) scale(0.8450,1)" font-size="12.84" text-anchor="start" fill="#1c1c1c" stroke="#1c1c1c" stroke-width="0.16">O</text>
<line x1="722.50" y1="871.30" x2="734.70" y2="871.30" stroke="#b020c4" stroke-width="2.1"/>
<text transform="translate(739.00,873.80) scale(0.8450,1)" font-size="12.84" text-anchor="start" fill="#1c1c1c" stroke="#1c1c1c" stroke-width="0.16" font-style="italic">p</text>
<text transform="translate(744.60,873.80) scale(0.8450,1)" font-size="12.84" text-anchor="start" fill="#1c1c1c" stroke="#1c1c1c" stroke-width="0.16">I</text>
<line x1="722.50" y1="886.00" x2="734.70" y2="886.00" stroke="#e8305a" stroke-width="2.1"/>
<text transform="translate(739.00,888.50) scale(0.8450,1)" font-size="12.84" text-anchor="start" fill="#1c1c1c" stroke="#1c1c1c" stroke-width="0.16" font-style="italic">p</text>
<text transform="translate(744.60,888.50) scale(0.8450,1)" font-size="12.84" text-anchor="start" fill="#1c1c1c" stroke="#1c1c1c" stroke-width="0.16">A-recessive</text>
<line x1="722.50" y1="898.90" x2="734.70" y2="898.90" stroke="#20c4d0" stroke-width="2.1"/>
<text transform="translate(739.00,901.40) scale(0.8450,1)" font-size="12.84" text-anchor="start" fill="#1c1c1c" stroke="#1c1c1c" stroke-width="0.16" font-style="italic">p</text>
<text transform="translate(744.60,901.40) scale(0.8450,1)" font-size="12.84" text-anchor="start" fill="#1c1c1c" stroke="#1c1c1c" stroke-width="0.16">S-recessive</text>
<line x1="722.50" y1="913.60" x2="734.70" y2="913.60" stroke="#1818e8" stroke-width="2.8"/>
<text transform="translate(739.00,916.10) scale(0.8450,1)" font-size="12.84" text-anchor="start" fill="#1c1c1c" stroke="#1c1c1c" stroke-width="0.16" font-style="italic">p</text>
<text transform="translate(744.60,916.10) scale(0.8450,1)" font-size="12.84" text-anchor="start" fill="#1c1c1c" stroke="#1c1c1c" stroke-width="0.16">S-additive</text>
</svg>
</body></html>
